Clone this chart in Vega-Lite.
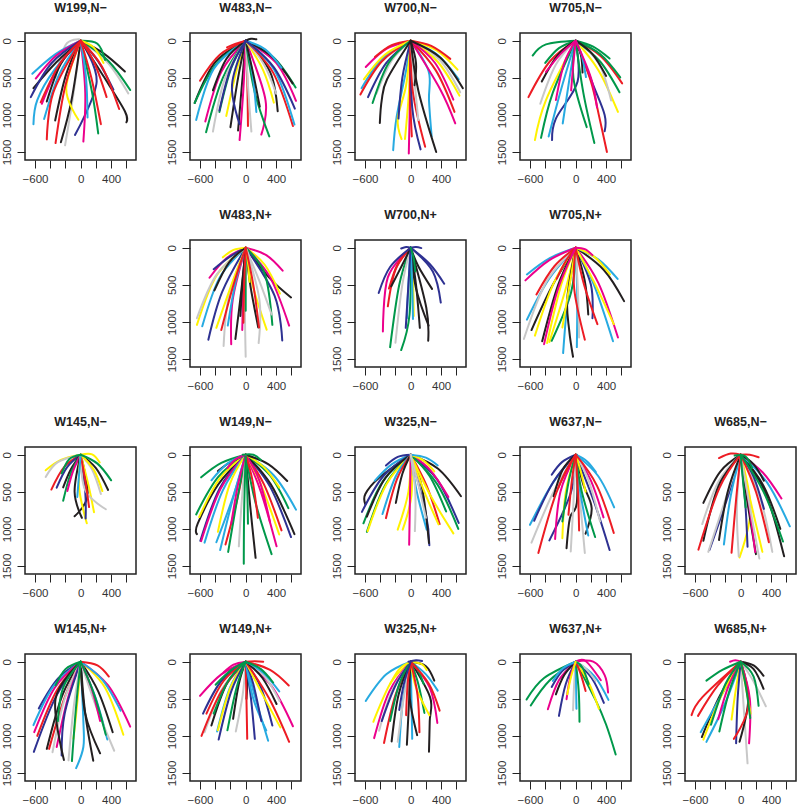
{"$schema":"https://vega.github.io/schema/vega-lite/v6.json","padding":0,"background":"white","data":{"values":[
{"p":1,"r":1,"c":"e","x":0,"y":0},{"p":1,"r":1,"c":"e","x":-100,"y":750},{"p":1,"r":1,"c":"e","x":-205,"y":1410},
{"p":1,"r":2,"c":"e","x":0,"y":0},{"p":1,"r":2,"c":"e","x":350,"y":290},{"p":1,"r":2,"c":"e","x":625,"y":710},
{"p":1,"r":3,"c":"e","x":-20,"y":-20},{"p":1,"r":3,"c":"e","x":-200,"y":60},{"p":1,"r":3,"c":"e","x":-330,"y":500},
{"p":1,"r":4,"c":"b","x":0,"y":0},{"p":1,"r":4,"c":"b","x":-330,"y":180},{"p":1,"r":4,"c":"b","x":-635,"y":445},
{"p":1,"r":5,"c":"b","x":0,"y":0},{"p":1,"r":5,"c":"b","x":-350,"y":400},{"p":1,"r":5,"c":"b","x":-570,"y":800},{"p":1,"r":5,"c":"b","x":-620,"y":1125},
{"p":1,"r":6,"c":"b","x":0,"y":0},{"p":1,"r":6,"c":"b","x":-280,"y":450},{"p":1,"r":6,"c":"b","x":-480,"y":1055},
{"p":1,"r":7,"c":"m","x":0,"y":0},{"p":1,"r":7,"c":"m","x":-320,"y":200},{"p":1,"r":7,"c":"m","x":-590,"y":510},
{"p":1,"r":8,"c":"k","x":0,"y":0},{"p":1,"r":8,"c":"k","x":-320,"y":290},{"p":1,"r":8,"c":"k","x":-620,"y":640},
{"p":1,"r":9,"c":"n","x":0,"y":0},{"p":1,"r":9,"c":"n","x":-380,"y":300},{"p":1,"r":9,"c":"n","x":-655,"y":760},
{"p":1,"r":10,"c":"m","x":0,"y":0},{"p":1,"r":10,"c":"m","x":-280,"y":330},{"p":1,"r":10,"c":"m","x":-510,"y":850},
{"p":1,"r":11,"c":"k","x":0,"y":0},{"p":1,"r":11,"c":"k","x":-260,"y":310},{"p":1,"r":11,"c":"k","x":-445,"y":820},
{"p":1,"r":12,"c":"k","x":0,"y":0},{"p":1,"r":12,"c":"k","x":-190,"y":450},{"p":1,"r":12,"c":"k","x":-335,"y":1075},
{"p":1,"r":13,"c":"k","x":0,"y":0},{"p":1,"r":13,"c":"k","x":-120,"y":800},{"p":1,"r":13,"c":"k","x":-260,"y":1370},
{"p":1,"r":14,"c":"y","x":0,"y":0},{"p":1,"r":14,"c":"y","x":-190,"y":640},{"p":1,"r":14,"c":"y","x":-30,"y":1065},
{"p":1,"r":15,"c":"n","x":0,"y":0},{"p":1,"r":15,"c":"n","x":210,"y":550},{"p":1,"r":15,"c":"n","x":-75,"y":1270},
{"p":1,"r":16,"c":"m","x":0,"y":0},{"p":1,"r":16,"c":"m","x":60,"y":700},{"p":1,"r":16,"c":"m","x":35,"y":1360},
{"p":1,"r":17,"c":"g","x":0,"y":0},{"p":1,"r":17,"c":"g","x":150,"y":700},{"p":1,"r":17,"c":"g","x":230,"y":1250},
{"p":1,"r":18,"c":"b","x":0,"y":0},{"p":1,"r":18,"c":"b","x":70,"y":500},{"p":1,"r":18,"c":"b","x":90,"y":1035},
{"p":1,"r":19,"c":"k","x":0,"y":0},{"p":1,"r":19,"c":"k","x":300,"y":170},{"p":1,"r":19,"c":"k","x":580,"y":415},
{"p":1,"r":20,"c":"g","x":0,"y":0},{"p":1,"r":20,"c":"g","x":360,"y":270},{"p":1,"r":20,"c":"g","x":650,"y":665},
{"p":1,"r":21,"c":"k","x":0,"y":0},{"p":1,"r":21,"c":"k","x":300,"y":480},{"p":1,"r":21,"c":"k","x":580,"y":950},{"p":1,"r":21,"c":"k","x":600,"y":1100},
{"p":1,"r":22,"c":"n","x":0,"y":0},{"p":1,"r":22,"c":"n","x":230,"y":280},{"p":1,"r":22,"c":"n","x":430,"y":660},
{"p":1,"r":23,"c":"g","x":0,"y":0},{"p":1,"r":23,"c":"g","x":220,"y":40},{"p":1,"r":23,"c":"g","x":320,"y":260},
{"p":1,"r":24,"c":"y","x":0,"y":0},{"p":1,"r":24,"c":"y","x":170,"y":90},{"p":1,"r":24,"c":"y","x":300,"y":300},
{"p":1,"r":25,"c":"r","x":0,"y":0},{"p":1,"r":25,"c":"r","x":-280,"y":320},{"p":1,"r":25,"c":"r","x":-525,"y":830},
{"p":1,"r":26,"c":"r","x":0,"y":0},{"p":1,"r":26,"c":"r","x":-360,"y":700},{"p":1,"r":26,"c":"r","x":-445,"y":1330},
{"p":1,"r":27,"c":"r","x":0,"y":0},{"p":1,"r":27,"c":"r","x":-200,"y":600},{"p":1,"r":27,"c":"r","x":-330,"y":1380},
{"p":1,"r":28,"c":"r","x":0,"y":0},{"p":1,"r":28,"c":"r","x":140,"y":500},{"p":1,"r":28,"c":"r","x":265,"y":1125},
{"p":1,"r":29,"c":"r","x":0,"y":0},{"p":1,"r":29,"c":"r","x":280,"y":350},{"p":1,"r":29,"c":"r","x":505,"y":920},
{"p":1,"r":30,"c":"r","x":0,"y":0},{"p":1,"r":30,"c":"r","x":180,"y":300},{"p":1,"r":30,"c":"r","x":340,"y":760},
{"p":2,"r":1,"c":"k","x":0,"y":0},{"p":2,"r":1,"c":"k","x":-400,"y":290},{"p":2,"r":1,"c":"k","x":-670,"y":840},
{"p":2,"r":2,"c":"g","x":0,"y":0},{"p":2,"r":2,"c":"g","x":-390,"y":320},{"p":2,"r":2,"c":"g","x":-670,"y":840},
{"p":2,"r":3,"c":"b","x":0,"y":0},{"p":2,"r":3,"c":"b","x":-420,"y":380},{"p":2,"r":3,"c":"b","x":-650,"y":1070},
{"p":2,"r":4,"c":"m","x":0,"y":0},{"p":2,"r":4,"c":"m","x":-320,"y":420},{"p":2,"r":4,"c":"m","x":-530,"y":1090},
{"p":2,"r":5,"c":"g","x":0,"y":0},{"p":2,"r":5,"c":"g","x":-300,"y":500},{"p":2,"r":5,"c":"g","x":-520,"y":1235},
{"p":2,"r":6,"c":"e","x":0,"y":0},{"p":2,"r":6,"c":"e","x":-270,"y":500},{"p":2,"r":6,"c":"e","x":-430,"y":1225},
{"p":2,"r":7,"c":"r","x":0,"y":0},{"p":2,"r":7,"c":"r","x":-340,"y":190},{"p":2,"r":7,"c":"r","x":-600,"y":540},
{"p":2,"r":8,"c":"k","x":0,"y":0},{"p":2,"r":8,"c":"k","x":-250,"y":240},{"p":2,"r":8,"c":"k","x":-430,"y":670},
{"p":2,"r":9,"c":"y","x":0,"y":0},{"p":2,"r":9,"c":"y","x":-120,"y":400},{"p":2,"r":9,"c":"y","x":-255,"y":1015},
{"p":2,"r":10,"c":"g","x":0,"y":0},{"p":2,"r":10,"c":"g","x":-190,"y":370},{"p":2,"r":10,"c":"g","x":-345,"y":960},
{"p":2,"r":11,"c":"k","x":0,"y":0},{"p":2,"r":11,"c":"k","x":-100,"y":500},{"p":2,"r":11,"c":"k","x":-200,"y":1165},
{"p":2,"r":12,"c":"k","x":0,"y":0},{"p":2,"r":12,"c":"k","x":-50,"y":600},{"p":2,"r":12,"c":"k","x":-100,"y":1210},
{"p":2,"r":13,"c":"m","x":0,"y":0},{"p":2,"r":13,"c":"m","x":-30,"y":650},{"p":2,"r":13,"c":"m","x":-80,"y":1340},
{"p":2,"r":14,"c":"r","x":0,"y":0},{"p":2,"r":14,"c":"r","x":20,"y":500},{"p":2,"r":14,"c":"r","x":30,"y":1150},
{"p":2,"r":15,"c":"e","x":0,"y":0},{"p":2,"r":15,"c":"e","x":30,"y":600},{"p":2,"r":15,"c":"e","x":75,"y":1225},
{"p":2,"r":16,"c":"m","x":0,"y":0},{"p":2,"r":16,"c":"m","x":260,"y":800},{"p":2,"r":16,"c":"m","x":205,"y":1265},
{"p":2,"r":17,"c":"g","x":0,"y":0},{"p":2,"r":17,"c":"g","x":120,"y":700},{"p":2,"r":17,"c":"g","x":310,"y":1290},
{"p":2,"r":18,"c":"b","x":0,"y":0},{"p":2,"r":18,"c":"b","x":90,"y":450},{"p":2,"r":18,"c":"b","x":140,"y":960},
{"p":2,"r":19,"c":"k","x":0,"y":0},{"p":2,"r":19,"c":"k","x":100,"y":450},{"p":2,"r":19,"c":"k","x":185,"y":890},
{"p":2,"r":20,"c":"k","x":0,"y":0},{"p":2,"r":20,"c":"k","x":320,"y":420},{"p":2,"r":20,"c":"k","x":420,"y":950},
{"p":2,"r":21,"c":"y","x":0,"y":0},{"p":2,"r":21,"c":"y","x":230,"y":400},{"p":2,"r":21,"c":"y","x":370,"y":835},
{"p":2,"r":22,"c":"e","x":0,"y":0},{"p":2,"r":22,"c":"e","x":240,"y":320},{"p":2,"r":22,"c":"e","x":400,"y":715},
{"p":2,"r":23,"c":"r","x":0,"y":0},{"p":2,"r":23,"c":"r","x":360,"y":430},{"p":2,"r":23,"c":"r","x":620,"y":1150},
{"p":2,"r":24,"c":"b","x":0,"y":0},{"p":2,"r":24,"c":"b","x":380,"y":400},{"p":2,"r":24,"c":"b","x":640,"y":1130},
{"p":2,"r":25,"c":"m","x":0,"y":0},{"p":2,"r":25,"c":"m","x":400,"y":300},{"p":2,"r":25,"c":"m","x":660,"y":810},
{"p":2,"r":26,"c":"g","x":0,"y":0},{"p":2,"r":26,"c":"g","x":370,"y":230},{"p":2,"r":26,"c":"g","x":655,"y":630},
{"p":2,"r":27,"c":"k","x":0,"y":0},{"p":2,"r":27,"c":"k","x":350,"y":220},{"p":2,"r":27,"c":"k","x":615,"y":575},
{"p":2,"r":28,"c":"b","x":0,"y":0},{"p":2,"r":28,"c":"b","x":260,"y":120},{"p":2,"r":28,"c":"b","x":470,"y":365},
{"p":2,"r":29,"c":"r","x":0,"y":0},{"p":2,"r":29,"c":"r","x":-130,"y":40},{"p":2,"r":29,"c":"r","x":-245,"y":90},
{"p":2,"r":30,"c":"k","x":0,"y":0},{"p":2,"r":30,"c":"k","x":70,"y":-25},{"p":2,"r":30,"c":"k","x":140,"y":-20},
{"p":2,"r":31,"c":"n","x":0,"y":0},{"p":2,"r":31,"c":"n","x":-200,"y":380},{"p":2,"r":31,"c":"n","x":-345,"y":940},
{"p":2,"r":32,"c":"n","x":0,"y":0},{"p":2,"r":32,"c":"n","x":-180,"y":600},{"p":2,"r":32,"c":"n","x":-80,"y":1125},
{"p":2,"r":33,"c":"n","x":0,"y":0},{"p":2,"r":33,"c":"n","x":370,"y":360},{"p":2,"r":33,"c":"n","x":645,"y":915},
{"p":3,"r":1,"c":"b","x":0,"y":0},{"p":3,"r":1,"c":"b","x":-370,"y":240},{"p":3,"r":1,"c":"b","x":-645,"y":640},
{"p":3,"r":2,"c":"r","x":0,"y":0},{"p":3,"r":2,"c":"r","x":-380,"y":280},{"p":3,"r":2,"c":"r","x":-660,"y":725},
{"p":3,"r":3,"c":"m","x":0,"y":0},{"p":3,"r":3,"c":"m","x":-320,"y":110},{"p":3,"r":3,"c":"m","x":-590,"y":355},
{"p":3,"r":4,"c":"r","x":0,"y":0},{"p":3,"r":4,"c":"r","x":-250,"y":60},{"p":3,"r":4,"c":"r","x":-470,"y":220},
{"p":3,"r":5,"c":"y","x":0,"y":0},{"p":3,"r":5,"c":"y","x":-340,"y":190},{"p":3,"r":5,"c":"y","x":-615,"y":520},
{"p":3,"r":6,"c":"n","x":0,"y":0},{"p":3,"r":6,"c":"n","x":-320,"y":300},{"p":3,"r":6,"c":"n","x":-560,"y":760},
{"p":3,"r":7,"c":"e","x":0,"y":0},{"p":3,"r":7,"c":"e","x":-250,"y":270},{"p":3,"r":7,"c":"e","x":-450,"y":715},
{"p":3,"r":8,"c":"g","x":0,"y":0},{"p":3,"r":8,"c":"g","x":-290,"y":300},{"p":3,"r":8,"c":"g","x":-500,"y":840},
{"p":3,"r":9,"c":"b","x":0,"y":0},{"p":3,"r":9,"c":"b","x":-60,"y":400},{"p":3,"r":9,"c":"b","x":-185,"y":1030},{"p":3,"r":9,"c":"b","x":-230,"y":1475},
{"p":3,"r":10,"c":"y","x":0,"y":0},{"p":3,"r":10,"c":"y","x":-60,"y":600},{"p":3,"r":10,"c":"y","x":-170,"y":1050},{"p":3,"r":10,"c":"y","x":-120,"y":1325},
{"p":3,"r":11,"c":"n","x":0,"y":0},{"p":3,"r":11,"c":"n","x":-110,"y":500},{"p":3,"r":11,"c":"n","x":-160,"y":1050},
{"p":3,"r":12,"c":"y","x":0,"y":0},{"p":3,"r":12,"c":"y","x":-20,"y":650},{"p":3,"r":12,"c":"y","x":-75,"y":1325},
{"p":3,"r":13,"c":"m","x":0,"y":0},{"p":3,"r":13,"c":"m","x":-10,"y":800},{"p":3,"r":13,"c":"m","x":-25,"y":1520},
{"p":3,"r":14,"c":"r","x":0,"y":0},{"p":3,"r":14,"c":"r","x":-10,"y":650},{"p":3,"r":14,"c":"r","x":15,"y":1290},
{"p":3,"r":15,"c":"n","x":0,"y":0},{"p":3,"r":15,"c":"n","x":20,"y":900},{"p":3,"r":15,"c":"n","x":130,"y":1465},
{"p":3,"r":16,"c":"r","x":0,"y":0},{"p":3,"r":16,"c":"r","x":30,"y":700},{"p":3,"r":16,"c":"r","x":190,"y":1430},
{"p":3,"r":17,"c":"b","x":0,"y":0},{"p":3,"r":17,"c":"b","x":235,"y":410},{"p":3,"r":17,"c":"b","x":240,"y":800},{"p":3,"r":17,"c":"b","x":275,"y":1290},
{"p":3,"r":18,"c":"e","x":0,"y":0},{"p":3,"r":18,"c":"e","x":50,"y":550},{"p":3,"r":18,"c":"e","x":100,"y":1070},
{"p":3,"r":19,"c":"m","x":0,"y":0},{"p":3,"r":19,"c":"m","x":385,"y":650},{"p":3,"r":19,"c":"m","x":585,"y":1115},
{"p":3,"r":20,"c":"r","x":0,"y":0},{"p":3,"r":20,"c":"r","x":330,"y":400},{"p":3,"r":20,"c":"r","x":575,"y":960},
{"p":3,"r":21,"c":"e","x":0,"y":0},{"p":3,"r":21,"c":"e","x":380,"y":260},{"p":3,"r":21,"c":"e","x":650,"y":695},
{"p":3,"r":22,"c":"y","x":0,"y":0},{"p":3,"r":22,"c":"y","x":360,"y":290},{"p":3,"r":22,"c":"y","x":640,"y":740},
{"p":3,"r":23,"c":"b","x":0,"y":0},{"p":3,"r":23,"c":"b","x":350,"y":190},{"p":3,"r":23,"c":"b","x":630,"y":520},
{"p":3,"r":24,"c":"y","x":0,"y":0},{"p":3,"r":24,"c":"y","x":340,"y":130},{"p":3,"r":24,"c":"y","x":615,"y":390},
{"p":3,"r":25,"c":"r","x":0,"y":0},{"p":3,"r":25,"c":"r","x":270,"y":70},{"p":3,"r":25,"c":"r","x":520,"y":245},
{"p":3,"r":26,"c":"m","x":0,"y":0},{"p":3,"r":26,"c":"m","x":320,"y":300},{"p":3,"r":26,"c":"m","x":560,"y":795},
{"p":3,"r":27,"c":"k","x":0,"y":0},{"p":3,"r":27,"c":"k","x":-310,"y":520},{"p":3,"r":27,"c":"k","x":-380,"y":800},{"p":3,"r":27,"c":"k","x":-405,"y":1110},
{"p":3,"r":28,"c":"k","x":0,"y":0},{"p":3,"r":28,"c":"k","x":100,"y":670},{"p":3,"r":28,"c":"k","x":335,"y":1500},
{"p":3,"r":29,"c":"k","x":0,"y":0},{"p":3,"r":29,"c":"k","x":390,"y":230},{"p":3,"r":29,"c":"k","x":685,"y":640},
{"p":3,"r":30,"c":"k","x":0,"y":0},{"p":3,"r":30,"c":"k","x":70,"y":300},{"p":3,"r":30,"c":"k","x":50,"y":600},
{"p":4,"r":1,"c":"g","x":0,"y":0},{"p":4,"r":1,"c":"g","x":-390,"y":50},{"p":4,"r":1,"c":"g","x":-565,"y":200},
{"p":4,"r":2,"c":"g","x":0,"y":0},{"p":4,"r":2,"c":"g","x":-220,"y":100},{"p":4,"r":2,"c":"g","x":-400,"y":300},
{"p":4,"r":3,"c":"r","x":0,"y":0},{"p":4,"r":3,"c":"r","x":-340,"y":280},{"p":4,"r":3,"c":"r","x":-620,"y":760},
{"p":4,"r":4,"c":"k","x":0,"y":0},{"p":4,"r":4,"c":"k","x":-240,"y":200},{"p":4,"r":4,"c":"k","x":-445,"y":550},
{"p":4,"r":5,"c":"e","x":0,"y":0},{"p":4,"r":5,"c":"e","x":-260,"y":320},{"p":4,"r":5,"c":"e","x":-465,"y":850},
{"p":4,"r":6,"c":"y","x":0,"y":0},{"p":4,"r":6,"c":"y","x":-390,"y":800},{"p":4,"r":6,"c":"y","x":-535,"y":1340},
{"p":4,"r":7,"c":"g","x":0,"y":0},{"p":4,"r":7,"c":"g","x":-300,"y":700},{"p":4,"r":7,"c":"g","x":-455,"y":1310},
{"p":4,"r":8,"c":"b","x":0,"y":0},{"p":4,"r":8,"c":"b","x":-190,"y":650},{"p":4,"r":8,"c":"b","x":-355,"y":1290},
{"p":4,"r":9,"c":"n","x":0,"y":0},{"p":4,"r":9,"c":"n","x":25,"y":550},{"p":4,"r":9,"c":"n","x":-260,"y":1050},{"p":4,"r":9,"c":"n","x":-310,"y":1340},
{"p":4,"r":10,"c":"b","x":0,"y":0},{"p":4,"r":10,"c":"b","x":-80,"y":500},{"p":4,"r":10,"c":"b","x":-170,"y":1115},
{"p":4,"r":11,"c":"g","x":0,"y":0},{"p":4,"r":11,"c":"g","x":-30,"y":500},{"p":4,"r":11,"c":"g","x":145,"y":1165},
{"p":4,"r":12,"c":"g","x":0,"y":0},{"p":4,"r":12,"c":"g","x":100,"y":700},{"p":4,"r":12,"c":"g","x":245,"y":1380},
{"p":4,"r":13,"c":"n","x":0,"y":0},{"p":4,"r":13,"c":"n","x":225,"y":585},{"p":4,"r":13,"c":"n","x":380,"y":1000},{"p":4,"r":13,"c":"n","x":380,"y":1220},
{"p":4,"r":14,"c":"r","x":0,"y":0},{"p":4,"r":14,"c":"r","x":200,"y":550},{"p":4,"r":14,"c":"r","x":310,"y":1030},{"p":4,"r":14,"c":"r","x":410,"y":1500},
{"p":4,"r":15,"c":"y","x":0,"y":0},{"p":4,"r":15,"c":"y","x":300,"y":400},{"p":4,"r":15,"c":"y","x":555,"y":960},
{"p":4,"r":16,"c":"e","x":0,"y":0},{"p":4,"r":16,"c":"e","x":300,"y":300},{"p":4,"r":16,"c":"e","x":465,"y":805},
{"p":4,"r":17,"c":"g","x":0,"y":0},{"p":4,"r":17,"c":"g","x":320,"y":280},{"p":4,"r":17,"c":"g","x":575,"y":695},
{"p":4,"r":18,"c":"r","x":0,"y":0},{"p":4,"r":18,"c":"r","x":330,"y":210},{"p":4,"r":18,"c":"r","x":610,"y":575},
{"p":4,"r":19,"c":"g","x":0,"y":0},{"p":4,"r":19,"c":"g","x":320,"y":180},{"p":4,"r":19,"c":"g","x":585,"y":495},
{"p":4,"r":20,"c":"g","x":0,"y":0},{"p":4,"r":20,"c":"g","x":230,"y":80},{"p":4,"r":20,"c":"g","x":445,"y":240},
{"p":4,"r":21,"c":"k","x":0,"y":0},{"p":4,"r":21,"c":"k","x":220,"y":180},{"p":4,"r":21,"c":"k","x":400,"y":475},
{"p":4,"r":22,"c":"k","x":0,"y":0},{"p":4,"r":22,"c":"k","x":70,"y":200},{"p":4,"r":22,"c":"k","x":90,"y":430},
{"p":4,"r":23,"c":"b","x":0,"y":0},{"p":4,"r":23,"c":"b","x":80,"y":200},{"p":4,"r":23,"c":"b","x":135,"y":490},
{"p":4,"r":24,"c":"m","x":0,"y":0},{"p":4,"r":24,"c":"m","x":-150,"y":300},{"p":4,"r":24,"c":"m","x":-260,"y":800},
{"p":4,"r":25,"c":"m","x":0,"y":0},{"p":4,"r":25,"c":"m","x":-200,"y":180},{"p":4,"r":25,"c":"m","x":-390,"y":420},
{"p":4,"r":26,"c":"m","x":0,"y":0},{"p":4,"r":26,"c":"m","x":-30,"y":300},{"p":4,"r":26,"c":"m","x":-60,"y":670},
{"p":4,"r":27,"c":"m","x":0,"y":0},{"p":4,"r":27,"c":"m","x":200,"y":500},{"p":4,"r":27,"c":"m","x":280,"y":900},
{"p":5,"r":1,"c":"m","x":0,"y":0},{"p":5,"r":1,"c":"m","x":270,"y":100},{"p":5,"r":1,"c":"m","x":485,"y":310},
{"p":5,"r":2,"c":"k","x":0,"y":0},{"p":5,"r":2,"c":"k","x":315,"y":410},{"p":5,"r":2,"c":"k","x":595,"y":670},
{"p":5,"r":3,"c":"y","x":0,"y":0},{"p":5,"r":3,"c":"y","x":250,"y":230},{"p":5,"r":3,"c":"y","x":450,"y":620},
{"p":5,"r":4,"c":"m","x":0,"y":0},{"p":5,"r":4,"c":"m","x":320,"y":400},{"p":5,"r":4,"c":"m","x":570,"y":1050},
{"p":5,"r":5,"c":"n","x":0,"y":0},{"p":5,"r":5,"c":"n","x":380,"y":650},{"p":5,"r":5,"c":"n","x":480,"y":1250},
{"p":5,"r":6,"c":"y","x":0,"y":0},{"p":5,"r":6,"c":"y","x":90,"y":500},{"p":5,"r":6,"c":"y","x":275,"y":1105},
{"p":5,"r":7,"c":"g","x":0,"y":0},{"p":5,"r":7,"c":"g","x":250,"y":350},{"p":5,"r":7,"c":"g","x":350,"y":1040},
{"p":5,"r":8,"c":"e","x":0,"y":0},{"p":5,"r":8,"c":"e","x":180,"y":450},{"p":5,"r":8,"c":"e","x":340,"y":900},
{"p":5,"r":9,"c":"k","x":0,"y":0},{"p":5,"r":9,"c":"k","x":60,"y":500},{"p":5,"r":9,"c":"k","x":165,"y":1075},
{"p":5,"r":10,"c":"k","x":0,"y":0},{"p":5,"r":10,"c":"k","x":-60,"y":600},{"p":5,"r":10,"c":"k","x":-135,"y":1230},
{"p":5,"r":11,"c":"e","x":0,"y":0},{"p":5,"r":11,"c":"e","x":180,"y":700},{"p":5,"r":11,"c":"e","x":170,"y":1285},
{"p":5,"r":12,"c":"e","x":0,"y":0},{"p":5,"r":12,"c":"e","x":-10,"y":800},{"p":5,"r":12,"c":"e","x":0,"y":1470},
{"p":5,"r":13,"c":"m","x":0,"y":0},{"p":5,"r":13,"c":"m","x":-30,"y":550},{"p":5,"r":13,"c":"m","x":-45,"y":1110},
{"p":5,"r":14,"c":"g","x":0,"y":0},{"p":5,"r":14,"c":"g","x":0,"y":450},{"p":5,"r":14,"c":"g","x":0,"y":850},
{"p":5,"r":15,"c":"m","x":0,"y":0},{"p":5,"r":15,"c":"m","x":-170,"y":700},{"p":5,"r":15,"c":"m","x":-190,"y":1300},
{"p":5,"r":16,"c":"e","x":0,"y":0},{"p":5,"r":16,"c":"e","x":-220,"y":650},{"p":5,"r":16,"c":"e","x":-290,"y":1325},
{"p":5,"r":17,"c":"n","x":0,"y":0},{"p":5,"r":17,"c":"n","x":-310,"y":600},{"p":5,"r":17,"c":"n","x":-490,"y":1240},
{"p":5,"r":18,"c":"y","x":0,"y":0},{"p":5,"r":18,"c":"y","x":-180,"y":480},{"p":5,"r":18,"c":"y","x":-385,"y":1080},
{"p":5,"r":19,"c":"b","x":0,"y":0},{"p":5,"r":19,"c":"b","x":-340,"y":400},{"p":5,"r":19,"c":"b","x":-570,"y":1060},
{"p":5,"r":20,"c":"y","x":0,"y":0},{"p":5,"r":20,"c":"y","x":-380,"y":370},{"p":5,"r":20,"c":"y","x":-640,"y":1040},
{"p":5,"r":21,"c":"e","x":0,"y":0},{"p":5,"r":21,"c":"e","x":-380,"y":360},{"p":5,"r":21,"c":"e","x":-640,"y":950},
{"p":5,"r":22,"c":"m","x":0,"y":0},{"p":5,"r":22,"c":"m","x":-250,"y":140},{"p":5,"r":22,"c":"m","x":-475,"y":405},
{"p":5,"r":23,"c":"n","x":0,"y":0},{"p":5,"r":23,"c":"n","x":-220,"y":130},{"p":5,"r":23,"c":"n","x":-420,"y":290},
{"p":5,"r":24,"c":"y","x":0,"y":0},{"p":5,"r":24,"c":"y","x":-160,"y":30},{"p":5,"r":24,"c":"y","x":-300,"y":130},
{"p":5,"r":25,"c":"k","x":0,"y":0},{"p":5,"r":25,"c":"k","x":-220,"y":200},{"p":5,"r":25,"c":"k","x":-410,"y":575},
{"p":5,"r":26,"c":"b","x":0,"y":0},{"p":5,"r":26,"c":"b","x":-130,"y":450},{"p":5,"r":26,"c":"b","x":-235,"y":1050},
{"p":5,"r":27,"c":"k","x":0,"y":0},{"p":5,"r":27,"c":"k","x":-40,"y":450},{"p":5,"r":27,"c":"k","x":-70,"y":920},
{"p":5,"r":28,"c":"y","x":0,"y":0},{"p":5,"r":28,"c":"y","x":30,"y":200},{"p":5,"r":28,"c":"y","x":50,"y":460},
{"p":5,"r":29,"c":"r","x":0,"y":0},{"p":5,"r":29,"c":"r","x":-160,"y":500},{"p":5,"r":29,"c":"r","x":-320,"y":1110},
{"p":5,"r":30,"c":"r","x":0,"y":0},{"p":5,"r":30,"c":"r","x":-20,"y":500},{"p":5,"r":30,"c":"r","x":-30,"y":1010},
{"p":5,"r":31,"c":"r","x":0,"y":0},{"p":5,"r":31,"c":"r","x":100,"y":500},{"p":5,"r":31,"c":"r","x":175,"y":1075},
{"p":6,"r":1,"c":"m","x":0,"y":0},{"p":6,"r":1,"c":"m","x":-300,"y":400},{"p":6,"r":1,"c":"m","x":-365,"y":1130},
{"p":6,"r":2,"c":"r","x":0,"y":0},{"p":6,"r":2,"c":"r","x":-200,"y":300},{"p":6,"r":2,"c":"r","x":-300,"y":790},
{"p":6,"r":3,"c":"r","x":0,"y":0},{"p":6,"r":3,"c":"r","x":-170,"y":220},{"p":6,"r":3,"c":"r","x":-285,"y":550},
{"p":6,"r":4,"c":"g","x":0,"y":0},{"p":6,"r":4,"c":"g","x":-150,"y":500},{"p":6,"r":4,"c":"g","x":-270,"y":1340},
{"p":6,"r":5,"c":"e","x":0,"y":0},{"p":6,"r":5,"c":"e","x":-110,"y":500},{"p":6,"r":5,"c":"e","x":-200,"y":1280},
{"p":6,"r":6,"c":"g","x":0,"y":0},{"p":6,"r":6,"c":"g","x":-15,"y":900},{"p":6,"r":6,"c":"g","x":-125,"y":1380},
{"p":6,"r":7,"c":"b","x":0,"y":0},{"p":6,"r":7,"c":"b","x":-30,"y":500},{"p":6,"r":7,"c":"b","x":-50,"y":950},
{"p":6,"r":8,"c":"y","x":0,"y":0},{"p":6,"r":8,"c":"y","x":30,"y":450},{"p":6,"r":8,"c":"y","x":40,"y":920},
{"p":6,"r":9,"c":"k","x":0,"y":0},{"p":6,"r":9,"c":"k","x":70,"y":500},{"p":6,"r":9,"c":"k","x":120,"y":1080},
{"p":6,"r":10,"c":"k","x":0,"y":0},{"p":6,"r":10,"c":"k","x":70,"y":550},{"p":6,"r":10,"c":"k","x":235,"y":1050},
{"p":6,"r":11,"c":"k","x":0,"y":0},{"p":6,"r":11,"c":"k","x":205,"y":810},{"p":6,"r":11,"c":"k","x":230,"y":1255},
{"p":6,"r":12,"c":"k","x":0,"y":0},{"p":6,"r":12,"c":"k","x":100,"y":250},{"p":6,"r":12,"c":"k","x":280,"y":555},
{"p":6,"r":13,"c":"b","x":0,"y":0},{"p":6,"r":13,"c":"b","x":20,"y":500},{"p":6,"r":13,"c":"b","x":30,"y":960},
{"p":6,"r":14,"c":"k","x":0,"y":0},{"p":6,"r":14,"c":"k","x":-120,"y":250},{"p":6,"r":14,"c":"k","x":-255,"y":520},
{"p":6,"r":15,"c":"n","x":0,"y":0},{"p":6,"r":15,"c":"n","x":-270,"y":260},{"p":6,"r":15,"c":"n","x":-420,"y":610},
{"p":6,"r":16,"c":"n","x":0,"y":0},{"p":6,"r":16,"c":"n","x":250,"y":220},{"p":6,"r":16,"c":"n","x":440,"y":485},
{"p":6,"r":17,"c":"n","x":0,"y":0},{"p":6,"r":17,"c":"n","x":290,"y":320},{"p":6,"r":17,"c":"n","x":395,"y":740},
{"p":6,"r":18,"c":"n","x":0,"y":0},{"p":6,"r":18,"c":"n","x":-30,"y":500},{"p":6,"r":18,"c":"n","x":-65,"y":1080},
{"p":6,"r":19,"c":"n","x":0,"y":0},{"p":6,"r":19,"c":"n","x":70,"y":-10},{"p":6,"r":19,"c":"n","x":140,"y":5},
{"p":6,"r":20,"c":"n","x":0,"y":0},{"p":6,"r":20,"c":"n","x":-60,"y":-10},{"p":6,"r":20,"c":"n","x":-125,"y":10},
{"p":6,"r":21,"c":"g","x":0,"y":0},{"p":6,"r":21,"c":"g","x":40,"y":150},{"p":6,"r":21,"c":"g","x":60,"y":320},
{"p":7,"r":1,"c":"b","x":0,"y":0},{"p":7,"r":1,"c":"b","x":-340,"y":140},{"p":7,"r":1,"c":"b","x":-640,"y":360},
{"p":7,"r":2,"c":"m","x":0,"y":0},{"p":7,"r":2,"c":"m","x":-350,"y":170},{"p":7,"r":2,"c":"m","x":-660,"y":440},
{"p":7,"r":3,"c":"b","x":0,"y":0},{"p":7,"r":3,"c":"b","x":-350,"y":420},{"p":7,"r":3,"c":"b","x":-640,"y":970},
{"p":7,"r":4,"c":"e","x":0,"y":0},{"p":7,"r":4,"c":"e","x":-380,"y":450},{"p":7,"r":4,"c":"e","x":-680,"y":1230},
{"p":7,"r":5,"c":"k","x":0,"y":0},{"p":7,"r":5,"c":"k","x":-300,"y":500},{"p":7,"r":5,"c":"k","x":-580,"y":1110},
{"p":7,"r":6,"c":"y","x":0,"y":0},{"p":7,"r":6,"c":"y","x":-290,"y":480},{"p":7,"r":6,"c":"y","x":-535,"y":1185},
{"p":7,"r":7,"c":"k","x":0,"y":0},{"p":7,"r":7,"c":"k","x":-230,"y":500},{"p":7,"r":7,"c":"k","x":-440,"y":1260},
{"p":7,"r":8,"c":"y","x":0,"y":0},{"p":7,"r":8,"c":"y","x":-190,"y":500},{"p":7,"r":8,"c":"y","x":-375,"y":1285},
{"p":7,"r":9,"c":"y","x":0,"y":0},{"p":7,"r":9,"c":"y","x":-130,"y":550},{"p":7,"r":9,"c":"y","x":-345,"y":1270},
{"p":7,"r":10,"c":"g","x":0,"y":0},{"p":7,"r":10,"c":"g","x":-60,"y":600},{"p":7,"r":10,"c":"g","x":-315,"y":1255},
{"p":7,"r":11,"c":"b","x":0,"y":0},{"p":7,"r":11,"c":"b","x":-100,"y":650},{"p":7,"r":11,"c":"b","x":-165,"y":1420},
{"p":7,"r":12,"c":"k","x":0,"y":0},{"p":7,"r":12,"c":"k","x":-110,"y":680},{"p":7,"r":12,"c":"k","x":-85,"y":1115},{"p":7,"r":12,"c":"k","x":-35,"y":1470},
{"p":7,"r":13,"c":"b","x":0,"y":0},{"p":7,"r":13,"c":"b","x":20,"y":650},{"p":7,"r":13,"c":"b","x":15,"y":1340},
{"p":7,"r":14,"c":"e","x":0,"y":0},{"p":7,"r":14,"c":"e","x":30,"y":600},{"p":7,"r":14,"c":"e","x":45,"y":1210},
{"p":7,"r":15,"c":"n","x":0,"y":0},{"p":7,"r":15,"c":"n","x":200,"y":500},{"p":7,"r":15,"c":"n","x":220,"y":950},
{"p":7,"r":16,"c":"k","x":0,"y":0},{"p":7,"r":16,"c":"k","x":120,"y":450},{"p":7,"r":16,"c":"k","x":165,"y":900},
{"p":7,"r":17,"c":"m","x":0,"y":0},{"p":7,"r":17,"c":"m","x":300,"y":480},{"p":7,"r":17,"c":"m","x":555,"y":1210},
{"p":7,"r":18,"c":"b","x":0,"y":0},{"p":7,"r":18,"c":"b","x":240,"y":500},{"p":7,"r":18,"c":"b","x":490,"y":1260},
{"p":7,"r":19,"c":"y","x":0,"y":0},{"p":7,"r":19,"c":"y","x":250,"y":480},{"p":7,"r":19,"c":"y","x":500,"y":1030},
{"p":7,"r":20,"c":"k","x":0,"y":0},{"p":7,"r":20,"c":"k","x":370,"y":300},{"p":7,"r":20,"c":"k","x":635,"y":720},
{"p":7,"r":21,"c":"b","x":0,"y":0},{"p":7,"r":21,"c":"b","x":300,"y":160},{"p":7,"r":21,"c":"b","x":550,"y":420},
{"p":7,"r":22,"c":"y","x":0,"y":0},{"p":7,"r":22,"c":"y","x":240,"y":120},{"p":7,"r":22,"c":"y","x":450,"y":360},
{"p":7,"r":23,"c":"y","x":0,"y":0},{"p":7,"r":23,"c":"y","x":-80,"y":500},{"p":7,"r":23,"c":"y","x":-175,"y":1075},
{"p":7,"r":24,"c":"r","x":0,"y":0},{"p":7,"r":24,"c":"r","x":-280,"y":250},{"p":7,"r":24,"c":"r","x":-515,"y":630},
{"p":7,"r":25,"c":"r","x":0,"y":0},{"p":7,"r":25,"c":"r","x":-20,"y":550},{"p":7,"r":25,"c":"r","x":120,"y":1240},
{"p":7,"r":26,"c":"r","x":0,"y":0},{"p":7,"r":26,"c":"r","x":110,"y":500},{"p":7,"r":26,"c":"r","x":285,"y":1030},
{"p":7,"r":27,"c":"r","x":0,"y":0},{"p":7,"r":27,"c":"r","x":-130,"y":180},{"p":7,"r":27,"c":"r","x":-250,"y":420},
{"p":7,"r":28,"c":"m","x":0,"y":0},{"p":7,"r":28,"c":"m","x":120,"y":20},{"p":7,"r":28,"c":"m","x":220,"y":100},
{"p":7,"r":29,"c":"m","x":0,"y":0},{"p":7,"r":29,"c":"m","x":-230,"y":550},{"p":7,"r":29,"c":"m","x":-415,"y":1300},
{"p":8,"r":1,"c":"y","x":0,"y":0},{"p":8,"r":1,"c":"y","x":-260,"y":70},{"p":8,"r":1,"c":"y","x":-460,"y":210},
{"p":8,"r":2,"c":"e","x":0,"y":0},{"p":8,"r":2,"c":"e","x":-300,"y":100},{"p":8,"r":2,"c":"e","x":-460,"y":300},
{"p":8,"r":3,"c":"r","x":0,"y":0},{"p":8,"r":3,"c":"r","x":-220,"y":170},{"p":8,"r":3,"c":"r","x":-385,"y":470},
{"p":8,"r":4,"c":"n","x":0,"y":0},{"p":8,"r":4,"c":"n","x":-180,"y":170},{"p":8,"r":4,"c":"n","x":-315,"y":445},
{"p":8,"r":5,"c":"k","x":0,"y":0},{"p":8,"r":5,"c":"k","x":-130,"y":200},{"p":8,"r":5,"c":"k","x":-230,"y":440},
{"p":8,"r":6,"c":"g","x":0,"y":0},{"p":8,"r":6,"c":"g","x":-130,"y":250},{"p":8,"r":6,"c":"g","x":-230,"y":620},
{"p":8,"r":7,"c":"m","x":0,"y":0},{"p":8,"r":7,"c":"m","x":-100,"y":220},{"p":8,"r":7,"c":"m","x":-175,"y":490},
{"p":8,"r":8,"c":"k","x":0,"y":0},{"p":8,"r":8,"c":"k","x":90,"y":550},{"p":8,"r":8,"c":"k","x":-80,"y":830},
{"p":8,"r":9,"c":"k","x":0,"y":0},{"p":8,"r":9,"c":"k","x":-80,"y":500},{"p":8,"r":9,"c":"k","x":15,"y":850},
{"p":8,"r":10,"c":"y","x":0,"y":0},{"p":8,"r":10,"c":"y","x":-20,"y":450},{"p":8,"r":10,"c":"y","x":80,"y":925},
{"p":8,"r":11,"c":"n","x":0,"y":0},{"p":8,"r":11,"c":"n","x":60,"y":500},{"p":8,"r":11,"c":"n","x":65,"y":860},
{"p":8,"r":12,"c":"y","x":0,"y":0},{"p":8,"r":12,"c":"y","x":100,"y":400},{"p":8,"r":12,"c":"y","x":175,"y":775},
{"p":8,"r":13,"c":"e","x":0,"y":0},{"p":8,"r":13,"c":"e","x":60,"y":480},{"p":8,"r":13,"c":"e","x":330,"y":735},
{"p":8,"r":14,"c":"r","x":0,"y":0},{"p":8,"r":14,"c":"r","x":60,"y":350},{"p":8,"r":14,"c":"r","x":110,"y":705},
{"p":8,"r":15,"c":"e","x":0,"y":0},{"p":8,"r":15,"c":"e","x":150,"y":200},{"p":8,"r":15,"c":"e","x":265,"y":530},
{"p":8,"r":16,"c":"k","x":0,"y":0},{"p":8,"r":16,"c":"k","x":200,"y":180},{"p":8,"r":16,"c":"k","x":360,"y":475},
{"p":8,"r":17,"c":"y","x":0,"y":0},{"p":8,"r":17,"c":"y","x":170,"y":200},{"p":8,"r":17,"c":"y","x":285,"y":490},
{"p":8,"r":18,"c":"y","x":0,"y":0},{"p":8,"r":18,"c":"y","x":150,"y":-5},{"p":8,"r":18,"c":"y","x":250,"y":105},
{"p":8,"r":19,"c":"b","x":0,"y":0},{"p":8,"r":19,"c":"b","x":-20,"y":250},{"p":8,"r":19,"c":"b","x":-45,"y":570},
{"p":8,"r":20,"c":"g","x":0,"y":0},{"p":8,"r":20,"c":"g","x":220,"y":120},{"p":8,"r":20,"c":"g","x":400,"y":345},
{"p":8,"r":21,"c":"g","x":0,"y":0},{"p":8,"r":21,"c":"g","x":-150,"y":60},{"p":8,"r":21,"c":"g","x":-250,"y":250},
{"p":9,"r":1,"c":"g","x":0,"y":0},{"p":9,"r":1,"c":"g","x":-320,"y":110},{"p":9,"r":1,"c":"g","x":-585,"y":305},
{"p":9,"r":2,"c":"g","x":0,"y":0},{"p":9,"r":2,"c":"g","x":-360,"y":300},{"p":9,"r":2,"c":"g","x":-650,"y":805},
{"p":9,"r":3,"c":"k","x":0,"y":0},{"p":9,"r":3,"c":"k","x":-360,"y":400},{"p":9,"r":3,"c":"k","x":-630,"y":930},{"p":9,"r":3,"c":"k","x":-640,"y":1070},
{"p":9,"r":4,"c":"y","x":0,"y":0},{"p":9,"r":4,"c":"y","x":-340,"y":320},{"p":9,"r":4,"c":"y","x":-610,"y":840},
{"p":9,"r":5,"c":"n","x":0,"y":0},{"p":9,"r":5,"c":"n","x":-340,"y":450},{"p":9,"r":5,"c":"n","x":-595,"y":1160},
{"p":9,"r":6,"c":"m","x":0,"y":0},{"p":9,"r":6,"c":"m","x":-330,"y":460},{"p":9,"r":6,"c":"m","x":-585,"y":1165},
{"p":9,"r":7,"c":"b","x":0,"y":0},{"p":9,"r":7,"c":"b","x":-300,"y":480},{"p":9,"r":7,"c":"b","x":-540,"y":1185},
{"p":9,"r":8,"c":"y","x":0,"y":0},{"p":9,"r":8,"c":"y","x":-210,"y":400},{"p":9,"r":8,"c":"y","x":-365,"y":1040},
{"p":9,"r":9,"c":"b","x":0,"y":0},{"p":9,"r":9,"c":"b","x":-160,"y":550},{"p":9,"r":9,"c":"b","x":-385,"y":1180},
{"p":9,"r":10,"c":"b","x":0,"y":0},{"p":9,"r":10,"c":"b","x":-170,"y":600},{"p":9,"r":10,"c":"b","x":-335,"y":1285},
{"p":9,"r":11,"c":"r","x":0,"y":0},{"p":9,"r":11,"c":"r","x":-110,"y":600},{"p":9,"r":11,"c":"r","x":-265,"y":1210},
{"p":9,"r":12,"c":"g","x":0,"y":0},{"p":9,"r":12,"c":"g","x":-120,"y":650},{"p":9,"r":12,"c":"g","x":-230,"y":1310},
{"p":9,"r":13,"c":"e","x":0,"y":0},{"p":9,"r":13,"c":"e","x":-50,"y":600},{"p":9,"r":13,"c":"e","x":-90,"y":1235},
{"p":9,"r":14,"c":"m","x":0,"y":0},{"p":9,"r":14,"c":"m","x":-100,"y":400},{"p":9,"r":14,"c":"m","x":-190,"y":930},
{"p":9,"r":15,"c":"g","x":0,"y":0},{"p":9,"r":15,"c":"g","x":-20,"y":750},{"p":9,"r":15,"c":"g","x":-25,"y":1470},
{"p":9,"r":16,"c":"k","x":0,"y":0},{"p":9,"r":16,"c":"k","x":60,"y":700},{"p":9,"r":16,"c":"k","x":130,"y":1390},
{"p":9,"r":17,"c":"m","x":0,"y":0},{"p":9,"r":17,"c":"m","x":200,"y":500},{"p":9,"r":17,"c":"m","x":405,"y":1235},
{"p":9,"r":18,"c":"g","x":0,"y":0},{"p":9,"r":18,"c":"g","x":130,"y":650},{"p":9,"r":18,"c":"g","x":340,"y":1340},
{"p":9,"r":19,"c":"r","x":0,"y":0},{"p":9,"r":19,"c":"r","x":240,"y":400},{"p":9,"r":19,"c":"r","x":470,"y":1020},
{"p":9,"r":20,"c":"y","x":0,"y":0},{"p":9,"r":20,"c":"y","x":200,"y":400},{"p":9,"r":20,"c":"y","x":440,"y":1075},
{"p":9,"r":21,"c":"n","x":0,"y":0},{"p":9,"r":21,"c":"n","x":320,"y":430},{"p":9,"r":21,"c":"n","x":595,"y":1110},
{"p":9,"r":22,"c":"k","x":0,"y":0},{"p":9,"r":22,"c":"k","x":330,"y":400},{"p":9,"r":22,"c":"k","x":640,"y":1070},
{"p":9,"r":23,"c":"b","x":0,"y":0},{"p":9,"r":23,"c":"b","x":370,"y":280},{"p":9,"r":23,"c":"b","x":660,"y":740},
{"p":9,"r":24,"c":"g","x":0,"y":0},{"p":9,"r":24,"c":"g","x":320,"y":280},{"p":9,"r":24,"c":"g","x":560,"y":720},
{"p":9,"r":25,"c":"m","x":0,"y":0},{"p":9,"r":25,"c":"m","x":180,"y":350},{"p":9,"r":25,"c":"m","x":320,"y":910},
{"p":9,"r":26,"c":"y","x":0,"y":0},{"p":9,"r":26,"c":"y","x":240,"y":170},{"p":9,"r":26,"c":"y","x":440,"y":440},
{"p":9,"r":27,"c":"k","x":0,"y":0},{"p":9,"r":27,"c":"k","x":300,"y":130},{"p":9,"r":27,"c":"k","x":545,"y":355},
{"p":9,"r":28,"c":"k","x":0,"y":0},{"p":9,"r":28,"c":"k","x":-200,"y":100},{"p":9,"r":28,"c":"k","x":-365,"y":220},
{"p":9,"r":29,"c":"b","x":0,"y":0},{"p":9,"r":29,"c":"b","x":-240,"y":120},{"p":9,"r":29,"c":"b","x":-450,"y":345},
{"p":9,"r":30,"c":"r","x":0,"y":0},{"p":9,"r":30,"c":"r","x":90,"y":350},{"p":9,"r":30,"c":"r","x":160,"y":850},
{"p":9,"r":31,"c":"g","x":0,"y":0},{"p":9,"r":31,"c":"g","x":20,"y":450},{"p":9,"r":31,"c":"g","x":30,"y":930},
{"p":9,"r":32,"c":"m","x":0,"y":0},{"p":9,"r":32,"c":"m","x":-130,"y":60},{"p":9,"r":32,"c":"m","x":-240,"y":180},
{"p":9,"r":33,"c":"g","x":-40,"y":0},{"p":9,"r":33,"c":"g","x":100,"y":0},{"p":9,"r":33,"c":"g","x":200,"y":70},
{"p":10,"r":1,"c":"k","x":0,"y":0},{"p":10,"r":1,"c":"k","x":-415,"y":310},{"p":10,"r":1,"c":"k","x":-595,"y":530},{"p":10,"r":1,"c":"k","x":-595,"y":670},
{"p":10,"r":2,"c":"b","x":0,"y":0},{"p":10,"r":2,"c":"b","x":-250,"y":130},{"p":10,"r":2,"c":"b","x":-470,"y":350},
{"p":10,"r":3,"c":"n","x":0,"y":0},{"p":10,"r":3,"c":"n","x":-360,"y":290},{"p":10,"r":3,"c":"n","x":-640,"y":770},
{"p":10,"r":4,"c":"g","x":0,"y":0},{"p":10,"r":4,"c":"g","x":-360,"y":350},{"p":10,"r":4,"c":"g","x":-620,"y":925},
{"p":10,"r":5,"c":"g","x":0,"y":0},{"p":10,"r":5,"c":"g","x":-330,"y":400},{"p":10,"r":5,"c":"g","x":-575,"y":1040},
{"p":10,"r":6,"c":"y","x":0,"y":0},{"p":10,"r":6,"c":"y","x":-320,"y":400},{"p":10,"r":6,"c":"y","x":-565,"y":1030},
{"p":10,"r":7,"c":"k","x":0,"y":0},{"p":10,"r":7,"c":"k","x":-330,"y":310},{"p":10,"r":7,"c":"k","x":-575,"y":835},
{"p":10,"r":8,"c":"b","x":0,"y":0},{"p":10,"r":8,"c":"b","x":-200,"y":300},{"p":10,"r":8,"c":"b","x":-370,"y":800},
{"p":10,"r":9,"c":"r","x":0,"y":0},{"p":10,"r":9,"c":"r","x":-180,"y":330},{"p":10,"r":9,"c":"r","x":-325,"y":855},
{"p":10,"r":10,"c":"k","x":0,"y":0},{"p":10,"r":10,"c":"k","x":-110,"y":260},{"p":10,"r":10,"c":"k","x":-195,"y":650},
{"p":10,"r":11,"c":"y","x":0,"y":0},{"p":10,"r":11,"c":"y","x":-30,"y":500},{"p":10,"r":11,"c":"y","x":-170,"y":1010},
{"p":10,"r":12,"c":"y","x":0,"y":0},{"p":10,"r":12,"c":"y","x":10,"y":550},{"p":10,"r":12,"c":"y","x":-105,"y":1010},
{"p":10,"r":13,"c":"m","x":0,"y":0},{"p":10,"r":13,"c":"m","x":-10,"y":600},{"p":10,"r":13,"c":"m","x":-20,"y":1215},
{"p":10,"r":14,"c":"b","x":0,"y":0},{"p":10,"r":14,"c":"b","x":80,"y":500},{"p":10,"r":14,"c":"b","x":210,"y":1010},
{"p":10,"r":15,"c":"n","x":0,"y":0},{"p":10,"r":15,"c":"n","x":200,"y":800},{"p":10,"r":15,"c":"n","x":245,"y":1220},
{"p":10,"r":16,"c":"k","x":0,"y":0},{"p":10,"r":16,"c":"k","x":150,"y":450},{"p":10,"r":16,"c":"k","x":240,"y":1190},
{"p":10,"r":17,"c":"r","x":0,"y":0},{"p":10,"r":17,"c":"r","x":210,"y":420},{"p":10,"r":17,"c":"r","x":380,"y":935},
{"p":10,"r":18,"c":"y","x":0,"y":0},{"p":10,"r":18,"c":"y","x":180,"y":500},{"p":10,"r":18,"c":"y","x":365,"y":940},
{"p":10,"r":19,"c":"y","x":0,"y":0},{"p":10,"r":19,"c":"y","x":260,"y":550},{"p":10,"r":19,"c":"y","x":560,"y":1060},
{"p":10,"r":20,"c":"g","x":0,"y":0},{"p":10,"r":20,"c":"g","x":350,"y":400},{"p":10,"r":20,"c":"g","x":625,"y":1000},
{"p":10,"r":21,"c":"n","x":0,"y":0},{"p":10,"r":21,"c":"n","x":350,"y":340},{"p":10,"r":21,"c":"n","x":630,"y":920},
{"p":10,"r":22,"c":"k","x":0,"y":0},{"p":10,"r":22,"c":"k","x":360,"y":190},{"p":10,"r":22,"c":"k","x":660,"y":560},
{"p":10,"r":23,"c":"m","x":0,"y":0},{"p":10,"r":23,"c":"m","x":260,"y":210},{"p":10,"r":23,"c":"m","x":495,"y":570},
{"p":10,"r":24,"c":"g","x":0,"y":0},{"p":10,"r":24,"c":"g","x":250,"y":290},{"p":10,"r":24,"c":"g","x":465,"y":765},
{"p":10,"r":25,"c":"y","x":0,"y":0},{"p":10,"r":25,"c":"y","x":170,"y":80},{"p":10,"r":25,"c":"y","x":310,"y":225},
{"p":10,"r":26,"c":"b","x":0,"y":0},{"p":10,"r":26,"c":"b","x":200,"y":40},{"p":10,"r":26,"c":"b","x":355,"y":145},
{"p":10,"r":27,"c":"n","x":0,"y":0},{"p":10,"r":27,"c":"n","x":-170,"y":30},{"p":10,"r":27,"c":"n","x":-325,"y":145},
{"p":10,"r":28,"c":"e","x":0,"y":0},{"p":10,"r":28,"c":"e","x":60,"y":500},{"p":10,"r":28,"c":"e","x":55,"y":1030},
{"p":10,"r":29,"c":"e","x":0,"y":0},{"p":10,"r":29,"c":"e","x":100,"y":400},{"p":10,"r":29,"c":"e","x":200,"y":850},
{"p":11,"r":1,"c":"b","x":0,"y":0},{"p":11,"r":1,"c":"b","x":-300,"y":380},{"p":11,"r":1,"c":"b","x":-600,"y":945},
{"p":11,"r":2,"c":"n","x":0,"y":0},{"p":11,"r":2,"c":"n","x":-290,"y":360},{"p":11,"r":2,"c":"n","x":-545,"y":890},
{"p":11,"r":3,"c":"e","x":0,"y":0},{"p":11,"r":3,"c":"e","x":-290,"y":500},{"p":11,"r":3,"c":"e","x":-580,"y":1185},
{"p":11,"r":4,"c":"n","x":0,"y":0},{"p":11,"r":4,"c":"n","x":-60,"y":500},{"p":11,"r":4,"c":"n","x":-345,"y":1155},
{"p":11,"r":5,"c":"m","x":0,"y":0},{"p":11,"r":5,"c":"m","x":-200,"y":500},{"p":11,"r":5,"c":"m","x":-270,"y":1135},
{"p":11,"r":6,"c":"y","x":0,"y":0},{"p":11,"r":6,"c":"y","x":-130,"y":500},{"p":11,"r":6,"c":"y","x":-175,"y":1125},
{"p":11,"r":7,"c":"k","x":15,"y":0},{"p":11,"r":7,"c":"k","x":15,"y":650},{"p":11,"r":7,"c":"k","x":-75,"y":850},{"p":11,"r":7,"c":"k","x":-120,"y":1260},
{"p":11,"r":8,"c":"e","x":0,"y":0},{"p":11,"r":8,"c":"e","x":-30,"y":650},{"p":11,"r":8,"c":"e","x":-65,"y":1305},
{"p":11,"r":9,"c":"k","x":0,"y":0},{"p":11,"r":9,"c":"k","x":100,"y":400},{"p":11,"r":9,"c":"k","x":210,"y":720},{"p":11,"r":9,"c":"k","x":130,"y":1065},
{"p":11,"r":10,"c":"e","x":0,"y":0},{"p":11,"r":10,"c":"e","x":60,"y":650},{"p":11,"r":10,"c":"e","x":120,"y":1325},
{"p":11,"r":11,"c":"b","x":0,"y":0},{"p":11,"r":11,"c":"b","x":60,"y":500},{"p":11,"r":11,"c":"b","x":165,"y":1090},
{"p":11,"r":12,"c":"g","x":0,"y":0},{"p":11,"r":12,"c":"g","x":80,"y":500},{"p":11,"r":12,"c":"g","x":255,"y":1110},
{"p":11,"r":13,"c":"n","x":0,"y":0},{"p":11,"r":13,"c":"n","x":255,"y":675},{"p":11,"r":13,"c":"n","x":445,"y":1285},
{"p":11,"r":14,"c":"b","x":0,"y":0},{"p":11,"r":14,"c":"b","x":290,"y":280},{"p":11,"r":14,"c":"b","x":505,"y":710},
{"p":11,"r":15,"c":"m","x":0,"y":0},{"p":11,"r":15,"c":"m","x":200,"y":350},{"p":11,"r":15,"c":"m","x":365,"y":845},
{"p":11,"r":16,"c":"e","x":0,"y":0},{"p":11,"r":16,"c":"e","x":170,"y":350},{"p":11,"r":16,"c":"e","x":320,"y":900},
{"p":11,"r":17,"c":"b","x":0,"y":0},{"p":11,"r":17,"c":"b","x":150,"y":90},{"p":11,"r":17,"c":"b","x":265,"y":235},
{"p":11,"r":18,"c":"n","x":0,"y":0},{"p":11,"r":18,"c":"n","x":-180,"y":100},{"p":11,"r":18,"c":"n","x":-315,"y":270},
{"p":11,"r":19,"c":"k","x":0,"y":0},{"p":11,"r":19,"c":"k","x":-170,"y":200},{"p":11,"r":19,"c":"k","x":-290,"y":560},
{"p":11,"r":20,"c":"g","x":0,"y":0},{"p":11,"r":20,"c":"g","x":-90,"y":350},{"p":11,"r":20,"c":"g","x":-175,"y":900},
{"p":11,"r":21,"c":"y","x":0,"y":0},{"p":11,"r":21,"c":"y","x":60,"y":200},{"p":11,"r":21,"c":"y","x":130,"y":500},
{"p":11,"r":22,"c":"r","x":0,"y":0},{"p":11,"r":22,"c":"r","x":-250,"y":500},{"p":11,"r":22,"c":"r","x":-490,"y":1325},
{"p":11,"r":23,"c":"r","x":0,"y":0},{"p":11,"r":23,"c":"r","x":-50,"y":350},{"p":11,"r":23,"c":"r","x":-95,"y":810},
{"p":11,"r":24,"c":"r","x":0,"y":0},{"p":11,"r":24,"c":"r","x":30,"y":500},{"p":11,"r":24,"c":"r","x":45,"y":1020},
{"p":11,"r":25,"c":"r","x":0,"y":0},{"p":11,"r":25,"c":"r","x":280,"y":420},{"p":11,"r":25,"c":"r","x":500,"y":1055},
{"p":11,"r":26,"c":"r","x":0,"y":0},{"p":11,"r":26,"c":"r","x":-120,"y":200},{"p":11,"r":26,"c":"r","x":-230,"y":450},
{"p":12,"r":1,"c":"k","x":0,"y":0},{"p":12,"r":1,"c":"k","x":-270,"y":230},{"p":12,"r":1,"c":"k","x":-490,"y":650},
{"p":12,"r":2,"c":"e","x":0,"y":0},{"p":12,"r":2,"c":"e","x":-290,"y":360},{"p":12,"r":2,"c":"e","x":-505,"y":935},
{"p":12,"r":3,"c":"k","x":0,"y":0},{"p":12,"r":3,"c":"k","x":-290,"y":420},{"p":12,"r":3,"c":"k","x":-490,"y":1160},
{"p":12,"r":4,"c":"n","x":0,"y":0},{"p":12,"r":4,"c":"n","x":-180,"y":600},{"p":12,"r":4,"c":"n","x":-410,"y":1285},
{"p":12,"r":5,"c":"e","x":0,"y":0},{"p":12,"r":5,"c":"e","x":-200,"y":600},{"p":12,"r":5,"c":"e","x":-425,"y":1310},
{"p":12,"r":6,"c":"b","x":0,"y":0},{"p":12,"r":6,"c":"b","x":-130,"y":550},{"p":12,"r":6,"c":"b","x":-220,"y":1210},
{"p":12,"r":7,"c":"k","x":0,"y":0},{"p":12,"r":7,"c":"k","x":-170,"y":500},{"p":12,"r":7,"c":"k","x":-285,"y":1150},
{"p":12,"r":8,"c":"y","x":0,"y":0},{"p":12,"r":8,"c":"y","x":130,"y":750},{"p":12,"r":8,"c":"y","x":-15,"y":1385},
{"p":12,"r":9,"c":"e","x":0,"y":0},{"p":12,"r":9,"c":"e","x":-50,"y":700},{"p":12,"r":9,"c":"e","x":-25,"y":1370},
{"p":12,"r":10,"c":"r","x":0,"y":0},{"p":12,"r":10,"c":"r","x":-60,"y":600},{"p":12,"r":10,"c":"r","x":-120,"y":1320},
{"p":12,"r":11,"c":"n","x":0,"y":0},{"p":12,"r":11,"c":"n","x":60,"y":650},{"p":12,"r":11,"c":"n","x":90,"y":1240},
{"p":12,"r":12,"c":"k","x":0,"y":0},{"p":12,"r":12,"c":"k","x":90,"y":650},{"p":12,"r":12,"c":"k","x":200,"y":1340},
{"p":12,"r":13,"c":"m","x":0,"y":0},{"p":12,"r":13,"c":"m","x":100,"y":600},{"p":12,"r":13,"c":"m","x":190,"y":1310},
{"p":12,"r":14,"c":"y","x":0,"y":0},{"p":12,"r":14,"c":"y","x":90,"y":450},{"p":12,"r":14,"c":"y","x":285,"y":1310},
{"p":12,"r":15,"c":"e","x":0,"y":0},{"p":12,"r":15,"c":"e","x":120,"y":700},{"p":12,"r":15,"c":"e","x":245,"y":1400},
{"p":12,"r":16,"c":"e","x":0,"y":0},{"p":12,"r":16,"c":"e","x":260,"y":600},{"p":12,"r":16,"c":"e","x":415,"y":1310},
{"p":12,"r":17,"c":"k","x":0,"y":0},{"p":12,"r":17,"c":"k","x":320,"y":500},{"p":12,"r":17,"c":"k","x":570,"y":1370},
{"p":12,"r":18,"c":"k","x":0,"y":0},{"p":12,"r":18,"c":"k","x":300,"y":420},{"p":12,"r":18,"c":"k","x":520,"y":1000},
{"p":12,"r":19,"c":"b","x":0,"y":0},{"p":12,"r":19,"c":"b","x":350,"y":380},{"p":12,"r":19,"c":"b","x":645,"y":965},
{"p":12,"r":20,"c":"m","x":0,"y":0},{"p":12,"r":20,"c":"m","x":290,"y":240},{"p":12,"r":20,"c":"m","x":535,"y":590},
{"p":12,"r":21,"c":"k","x":0,"y":0},{"p":12,"r":21,"c":"k","x":170,"y":130},{"p":12,"r":21,"c":"k","x":305,"y":350},
{"p":12,"r":22,"c":"n","x":0,"y":0},{"p":12,"r":22,"c":"n","x":170,"y":300},{"p":12,"r":22,"c":"n","x":305,"y":730},
{"p":12,"r":23,"c":"r","x":0,"y":0},{"p":12,"r":23,"c":"r","x":-280,"y":450},{"p":12,"r":23,"c":"r","x":-555,"y":1280},
{"p":12,"r":24,"c":"r","x":0,"y":0},{"p":12,"r":24,"c":"r","x":-130,"y":-15},{"p":12,"r":24,"c":"r","x":-285,"y":45},
{"p":12,"r":25,"c":"r","x":0,"y":0},{"p":12,"r":25,"c":"r","x":120,"y":0},{"p":12,"r":25,"c":"r","x":235,"y":35},
{"p":12,"r":26,"c":"r","x":0,"y":0},{"p":12,"r":26,"c":"r","x":200,"y":500},{"p":12,"r":26,"c":"r","x":370,"y":1180},
{"p":12,"r":27,"c":"g","x":0,"y":0},{"p":12,"r":27,"c":"g","x":30,"y":350},{"p":12,"r":27,"c":"g","x":65,"y":710},
{"p":12,"r":28,"c":"g","x":0,"y":0},{"p":12,"r":28,"c":"g","x":300,"y":500},{"p":12,"r":28,"c":"g","x":555,"y":1170},
{"p":12,"r":29,"c":"g","x":-80,"y":10},{"p":12,"r":29,"c":"g","x":60,"y":20},{"p":12,"r":29,"c":"g","x":150,"y":180},
{"p":13,"r":1,"c":"n","x":0,"y":0},{"p":13,"r":1,"c":"n","x":-300,"y":230},{"p":13,"r":1,"c":"n","x":-550,"y":630},
{"p":13,"r":2,"c":"b","x":0,"y":0},{"p":13,"r":2,"c":"b","x":-350,"y":320},{"p":13,"r":2,"c":"b","x":-620,"y":855},
{"p":13,"r":3,"c":"m","x":0,"y":0},{"p":13,"r":3,"c":"m","x":-340,"y":350},{"p":13,"r":3,"c":"m","x":-610,"y":950},
{"p":13,"r":4,"c":"n","x":0,"y":0},{"p":13,"r":4,"c":"n","x":-320,"y":460},{"p":13,"r":4,"c":"n","x":-615,"y":1215},
{"p":13,"r":5,"c":"r","x":0,"y":0},{"p":13,"r":5,"c":"r","x":-310,"y":380},{"p":13,"r":5,"c":"r","x":-570,"y":1000},
{"p":13,"r":6,"c":"k","x":0,"y":0},{"p":13,"r":6,"c":"k","x":-240,"y":450},{"p":13,"r":6,"c":"k","x":-445,"y":1175},
{"p":13,"r":7,"c":"r","x":0,"y":0},{"p":13,"r":7,"c":"r","x":-210,"y":480},{"p":13,"r":7,"c":"r","x":-415,"y":1175},
{"p":13,"r":8,"c":"e","x":0,"y":0},{"p":13,"r":8,"c":"e","x":-210,"y":500},{"p":13,"r":8,"c":"e","x":-370,"y":1220},
{"p":13,"r":9,"c":"m","x":0,"y":0},{"p":13,"r":9,"c":"m","x":-170,"y":500},{"p":13,"r":9,"c":"m","x":-315,"y":1150},
{"p":13,"r":10,"c":"n","x":0,"y":0},{"p":13,"r":10,"c":"n","x":-210,"y":700},{"p":13,"r":10,"c":"n","x":-250,"y":1265},
{"p":13,"r":11,"c":"k","x":0,"y":0},{"p":13,"r":11,"c":"k","x":-330,"y":500},{"p":13,"r":11,"c":"k","x":-220,"y":1325},
{"p":13,"r":12,"c":"e","x":0,"y":0},{"p":13,"r":12,"c":"e","x":-90,"y":600},{"p":13,"r":12,"c":"e","x":-160,"y":1330},
{"p":13,"r":13,"c":"b","x":0,"y":0},{"p":13,"r":13,"c":"b","x":35,"y":800},{"p":13,"r":13,"c":"b","x":35,"y":1150},{"p":13,"r":13,"c":"b","x":-60,"y":1435},
{"p":13,"r":14,"c":"y","x":0,"y":0},{"p":13,"r":14,"c":"y","x":-40,"y":500},{"p":13,"r":14,"c":"y","x":-95,"y":1040},
{"p":13,"r":15,"c":"k","x":0,"y":0},{"p":13,"r":15,"c":"k","x":60,"y":700},{"p":13,"r":15,"c":"k","x":165,"y":1335},
{"p":13,"r":16,"c":"k","x":0,"y":0},{"p":13,"r":16,"c":"k","x":60,"y":700},{"p":13,"r":16,"c":"k","x":255,"y":1235},
{"p":13,"r":17,"c":"k","x":0,"y":0},{"p":13,"r":17,"c":"k","x":230,"y":400},{"p":13,"r":17,"c":"k","x":420,"y":950},
{"p":13,"r":18,"c":"b","x":0,"y":0},{"p":13,"r":18,"c":"b","x":200,"y":500},{"p":13,"r":18,"c":"b","x":350,"y":1050},
{"p":13,"r":19,"c":"e","x":0,"y":0},{"p":13,"r":19,"c":"e","x":200,"y":600},{"p":13,"r":19,"c":"e","x":440,"y":1200},
{"p":13,"r":20,"c":"y","x":0,"y":0},{"p":13,"r":20,"c":"y","x":320,"y":350},{"p":13,"r":20,"c":"y","x":560,"y":985},
{"p":13,"r":21,"c":"m","x":0,"y":0},{"p":13,"r":21,"c":"m","x":360,"y":320},{"p":13,"r":21,"c":"m","x":650,"y":875},
{"p":13,"r":22,"c":"m","x":0,"y":0},{"p":13,"r":22,"c":"m","x":140,"y":350},{"p":13,"r":22,"c":"m","x":255,"y":800},
{"p":13,"r":23,"c":"b","x":0,"y":0},{"p":13,"r":23,"c":"b","x":290,"y":250},{"p":13,"r":23,"c":"b","x":525,"y":660},
{"p":13,"r":24,"c":"r","x":0,"y":0},{"p":13,"r":24,"c":"r","x":220,"y":50},{"p":13,"r":24,"c":"r","x":370,"y":200},
{"p":13,"r":25,"c":"g","x":0,"y":0},{"p":13,"r":25,"c":"g","x":180,"y":450},{"p":13,"r":25,"c":"g","x":330,"y":985},
{"p":13,"r":26,"c":"g","x":0,"y":0},{"p":13,"r":26,"c":"g","x":-230,"y":350},{"p":13,"r":26,"c":"g","x":-300,"y":800},
{"p":13,"r":27,"c":"g","x":0,"y":0},{"p":13,"r":27,"c":"g","x":-60,"y":600},{"p":13,"r":27,"c":"g","x":-115,"y":1340},
{"p":13,"r":28,"c":"g","x":0,"y":0},{"p":13,"r":28,"c":"g","x":-200,"y":100},{"p":13,"r":28,"c":"g","x":-330,"y":320},
{"p":14,"r":1,"c":"e","x":0,"y":0},{"p":14,"r":1,"c":"e","x":-300,"y":350},{"p":14,"r":1,"c":"e","x":-540,"y":950},
{"p":14,"r":2,"c":"k","x":0,"y":0},{"p":14,"r":2,"c":"k","x":-250,"y":300},{"p":14,"r":2,"c":"k","x":-450,"y":860},
{"p":14,"r":3,"c":"m","x":0,"y":0},{"p":14,"r":3,"c":"m","x":-320,"y":170},{"p":14,"r":3,"c":"m","x":-600,"y":460},
{"p":14,"r":4,"c":"n","x":0,"y":0},{"p":14,"r":4,"c":"n","x":-320,"y":260},{"p":14,"r":4,"c":"n","x":-560,"y":700},
{"p":14,"r":5,"c":"r","x":0,"y":0},{"p":14,"r":5,"c":"r","x":-290,"y":260},{"p":14,"r":5,"c":"r","x":-515,"y":700},
{"p":14,"r":6,"c":"r","x":0,"y":0},{"p":14,"r":6,"c":"r","x":-320,"y":400},{"p":14,"r":6,"c":"r","x":-580,"y":1000},
{"p":14,"r":7,"c":"b","x":0,"y":0},{"p":14,"r":7,"c":"b","x":-210,"y":360},{"p":14,"r":7,"c":"b","x":-375,"y":940},
{"p":14,"r":8,"c":"y","x":0,"y":0},{"p":14,"r":8,"c":"y","x":-200,"y":350},{"p":14,"r":8,"c":"y","x":-365,"y":925},
{"p":14,"r":9,"c":"n","x":0,"y":0},{"p":14,"r":9,"c":"n","x":-190,"y":400},{"p":14,"r":9,"c":"n","x":-355,"y":1050},
{"p":14,"r":10,"c":"k","x":0,"y":0},{"p":14,"r":10,"c":"k","x":-90,"y":300},{"p":14,"r":10,"c":"k","x":-165,"y":770},
{"p":14,"r":11,"c":"e","x":0,"y":0},{"p":14,"r":11,"c":"e","x":-40,"y":450},{"p":14,"r":11,"c":"e","x":-130,"y":940},
{"p":14,"r":12,"c":"k","x":0,"y":0},{"p":14,"r":12,"c":"k","x":20,"y":250},{"p":14,"r":12,"c":"k","x":10,"y":500},
{"p":14,"r":13,"c":"r","x":0,"y":0},{"p":14,"r":13,"c":"r","x":10,"y":500},{"p":14,"r":13,"c":"r","x":20,"y":1040},
{"p":14,"r":14,"c":"n","x":0,"y":0},{"p":14,"r":14,"c":"n","x":70,"y":500},{"p":14,"r":14,"c":"n","x":120,"y":1040},
{"p":14,"r":15,"c":"b","x":0,"y":0},{"p":14,"r":15,"c":"b","x":130,"y":500},{"p":14,"r":15,"c":"b","x":295,"y":1065},
{"p":14,"r":16,"c":"b","x":0,"y":0},{"p":14,"r":16,"c":"b","x":100,"y":500},{"p":14,"r":16,"c":"b","x":270,"y":925},
{"p":14,"r":17,"c":"n","x":0,"y":0},{"p":14,"r":17,"c":"n","x":100,"y":300},{"p":14,"r":17,"c":"n","x":205,"y":800},
{"p":14,"r":18,"c":"n","x":0,"y":0},{"p":14,"r":18,"c":"n","x":200,"y":350},{"p":14,"r":18,"c":"n","x":350,"y":860},
{"p":14,"r":19,"c":"y","x":0,"y":0},{"p":14,"r":19,"c":"y","x":200,"y":400},{"p":14,"r":19,"c":"y","x":455,"y":885},
{"p":14,"r":20,"c":"r","x":0,"y":0},{"p":14,"r":20,"c":"r","x":310,"y":500},{"p":14,"r":20,"c":"r","x":570,"y":1080},
{"p":14,"r":21,"c":"m","x":0,"y":0},{"p":14,"r":21,"c":"m","x":340,"y":330},{"p":14,"r":21,"c":"m","x":620,"y":870},
{"p":14,"r":22,"c":"e","x":0,"y":0},{"p":14,"r":22,"c":"e","x":250,"y":200},{"p":14,"r":22,"c":"e","x":445,"y":530},
{"p":14,"r":23,"c":"k","x":0,"y":0},{"p":14,"r":23,"c":"k","x":220,"y":220},{"p":14,"r":23,"c":"k","x":405,"y":570},
{"p":14,"r":24,"c":"r","x":0,"y":0},{"p":14,"r":24,"c":"r","x":320,"y":110},{"p":14,"r":24,"c":"r","x":565,"y":320},
{"p":14,"r":25,"c":"b","x":0,"y":0},{"p":14,"r":25,"c":"b","x":230,"y":150},{"p":14,"r":25,"c":"b","x":440,"y":400},
{"p":14,"r":26,"c":"r","x":0,"y":0},{"p":14,"r":26,"c":"r","x":120,"y":-5},{"p":14,"r":26,"c":"r","x":230,"y":0},
{"p":14,"r":27,"c":"m","x":0,"y":0},{"p":14,"r":27,"c":"m","x":-160,"y":40},{"p":14,"r":27,"c":"m","x":-290,"y":145},
{"p":14,"r":28,"c":"g","x":0,"y":0},{"p":14,"r":28,"c":"g","x":-200,"y":120},{"p":14,"r":28,"c":"g","x":-395,"y":310},
{"p":14,"r":29,"c":"g","x":0,"y":0},{"p":14,"r":29,"c":"g","x":-120,"y":350},{"p":14,"r":29,"c":"g","x":-240,"y":925},
{"p":14,"r":30,"c":"g","x":0,"y":0},{"p":14,"r":30,"c":"g","x":200,"y":100},{"p":14,"r":30,"c":"g","x":360,"y":280},
{"p":14,"r":31,"c":"g","x":0,"y":0},{"p":14,"r":31,"c":"g","x":-230,"y":260},{"p":14,"r":31,"c":"g","x":-420,"y":700},
{"p":15,"r":1,"c":"b","x":0,"y":0},{"p":15,"r":1,"c":"b","x":-320,"y":170},{"p":15,"r":1,"c":"b","x":-590,"y":530},
{"p":15,"r":2,"c":"y","x":0,"y":0},{"p":15,"r":2,"c":"y","x":-260,"y":280},{"p":15,"r":2,"c":"y","x":-490,"y":810},
{"p":15,"r":3,"c":"m","x":0,"y":0},{"p":15,"r":3,"c":"m","x":-280,"y":400},{"p":15,"r":3,"c":"m","x":-480,"y":1030},
{"p":15,"r":4,"c":"e","x":0,"y":0},{"p":15,"r":4,"c":"e","x":-240,"y":380},{"p":15,"r":4,"c":"e","x":-415,"y":930},
{"p":15,"r":5,"c":"r","x":0,"y":0},{"p":15,"r":5,"c":"r","x":-200,"y":450},{"p":15,"r":5,"c":"r","x":-350,"y":1095},
{"p":15,"r":6,"c":"n","x":0,"y":0},{"p":15,"r":6,"c":"n","x":-200,"y":320},{"p":15,"r":6,"c":"n","x":-380,"y":800},
{"p":15,"r":7,"c":"k","x":0,"y":0},{"p":15,"r":7,"c":"k","x":-160,"y":450},{"p":15,"r":7,"c":"k","x":-250,"y":1075},
{"p":15,"r":8,"c":"b","x":0,"y":0},{"p":15,"r":8,"c":"b","x":-100,"y":500},{"p":15,"r":8,"c":"b","x":-150,"y":1150},
{"p":15,"r":9,"c":"e","x":0,"y":0},{"p":15,"r":9,"c":"e","x":-90,"y":480},{"p":15,"r":9,"c":"e","x":-170,"y":1080},
{"p":15,"r":10,"c":"k","x":0,"y":0},{"p":15,"r":10,"c":"k","x":-20,"y":500},{"p":15,"r":10,"c":"k","x":-50,"y":1120},
{"p":15,"r":11,"c":"b","x":0,"y":0},{"p":15,"r":11,"c":"b","x":10,"y":500},{"p":15,"r":11,"c":"b","x":20,"y":1040},
{"p":15,"r":12,"c":"k","x":0,"y":0},{"p":15,"r":12,"c":"k","x":-10,"y":500},{"p":15,"r":12,"c":"k","x":85,"y":990},
{"p":15,"r":13,"c":"k","x":0,"y":0},{"p":15,"r":13,"c":"k","x":255,"y":480},{"p":15,"r":13,"c":"k","x":250,"y":800},{"p":15,"r":13,"c":"k","x":240,"y":1215},
{"p":15,"r":14,"c":"m","x":0,"y":0},{"p":15,"r":14,"c":"m","x":250,"y":350},{"p":15,"r":14,"c":"m","x":350,"y":825},
{"p":15,"r":15,"c":"g","x":0,"y":0},{"p":15,"r":15,"c":"g","x":100,"y":300},{"p":15,"r":15,"c":"g","x":180,"y":690},
{"p":15,"r":16,"c":"y","x":0,"y":0},{"p":15,"r":16,"c":"y","x":70,"y":350},{"p":15,"r":16,"c":"y","x":245,"y":720},
{"p":15,"r":17,"c":"b","x":0,"y":0},{"p":15,"r":17,"c":"b","x":200,"y":170},{"p":15,"r":17,"c":"b","x":355,"y":390},
{"p":15,"r":18,"c":"k","x":0,"y":0},{"p":15,"r":18,"c":"k","x":200,"y":60},{"p":15,"r":18,"c":"k","x":310,"y":255},
{"p":15,"r":19,"c":"y","x":0,"y":0},{"p":15,"r":19,"c":"y","x":140,"y":30},{"p":15,"r":19,"c":"y","x":210,"y":110},
{"p":15,"r":20,"c":"g","x":0,"y":0},{"p":15,"r":20,"c":"g","x":-150,"y":300},{"p":15,"r":20,"c":"g","x":-270,"y":800},
{"p":15,"r":21,"c":"y","x":0,"y":0},{"p":15,"r":21,"c":"y","x":-150,"y":100},{"p":15,"r":21,"c":"y","x":-270,"y":300},
{"p":15,"r":22,"c":"g","x":0,"y":0},{"p":15,"r":22,"c":"g","x":90,"y":100},{"p":15,"r":22,"c":"g","x":170,"y":300},
{"p":15,"r":23,"c":"r","x":0,"y":0},{"p":15,"r":23,"c":"r","x":-40,"y":300},{"p":15,"r":23,"c":"r","x":-60,"y":720},
{"p":15,"r":24,"c":"r","x":0,"y":0},{"p":15,"r":24,"c":"r","x":90,"y":450},{"p":15,"r":24,"c":"r","x":115,"y":950},
{"p":15,"r":25,"c":"r","x":0,"y":0},{"p":15,"r":25,"c":"r","x":240,"y":300},{"p":15,"r":25,"c":"r","x":380,"y":660},
{"p":15,"r":26,"c":"n","x":0,"y":0},{"p":15,"r":26,"c":"n","x":-90,"y":300},{"p":15,"r":26,"c":"n","x":-150,"y":650},
{"p":15,"r":27,"c":"n","x":-30,"y":0},{"p":15,"r":27,"c":"n","x":70,"y":-20},{"p":15,"r":27,"c":"n","x":150,"y":-10},
{"p":16,"r":1,"c":"g","x":0,"y":0},{"p":16,"r":1,"c":"g","x":-415,"y":220},{"p":16,"r":1,"c":"g","x":-645,"y":510},
{"p":16,"r":2,"c":"g","x":0,"y":0},{"p":16,"r":2,"c":"g","x":-340,"y":250},{"p":16,"r":2,"c":"g","x":-590,"y":590},
{"p":16,"r":3,"c":"m","x":0,"y":0},{"p":16,"r":3,"c":"m","x":-220,"y":250},{"p":16,"r":3,"c":"m","x":-365,"y":640},
{"p":16,"r":4,"c":"n","x":0,"y":0},{"p":16,"r":4,"c":"n","x":-130,"y":300},{"p":16,"r":4,"c":"n","x":-220,"y":730},
{"p":16,"r":5,"c":"e","x":0,"y":0},{"p":16,"r":5,"c":"e","x":-20,"y":300},{"p":16,"r":5,"c":"e","x":-35,"y":655},
{"p":16,"r":6,"c":"b","x":0,"y":0},{"p":16,"r":6,"c":"b","x":5,"y":300},{"p":16,"r":6,"c":"b","x":10,"y":635},
{"p":16,"r":7,"c":"g","x":0,"y":0},{"p":16,"r":7,"c":"g","x":40,"y":400},{"p":16,"r":7,"c":"g","x":50,"y":810},
{"p":16,"r":8,"c":"g","x":0,"y":0},{"p":16,"r":8,"c":"g","x":265,"y":525},{"p":16,"r":8,"c":"g","x":400,"y":850},{"p":16,"r":8,"c":"g","x":525,"y":1250},
{"p":16,"r":9,"c":"y","x":0,"y":0},{"p":16,"r":9,"c":"y","x":170,"y":280},{"p":16,"r":9,"c":"y","x":305,"y":635},
{"p":16,"r":10,"c":"n","x":0,"y":0},{"p":16,"r":10,"c":"n","x":210,"y":220},{"p":16,"r":10,"c":"n","x":370,"y":555},
{"p":16,"r":11,"c":"b","x":0,"y":0},{"p":16,"r":11,"c":"b","x":250,"y":200},{"p":16,"r":11,"c":"b","x":430,"y":515},
{"p":16,"r":12,"c":"m","x":0,"y":0},{"p":16,"r":12,"c":"m","x":230,"y":0},{"p":16,"r":12,"c":"m","x":380,"y":180},{"p":16,"r":12,"c":"m","x":425,"y":415},
{"p":16,"r":13,"c":"m","x":0,"y":0},{"p":16,"r":13,"c":"m","x":130,"y":-10},{"p":16,"r":13,"c":"m","x":330,"y":250},
{"p":16,"r":14,"c":"r","x":0,"y":0},{"p":16,"r":14,"c":"r","x":70,"y":180},{"p":16,"r":14,"c":"r","x":130,"y":395},
{"p":16,"r":15,"c":"k","x":0,"y":0},{"p":16,"r":15,"c":"k","x":-150,"y":180},{"p":16,"r":15,"c":"k","x":-260,"y":440},
{"p":16,"r":16,"c":"n","x":0,"y":0},{"p":16,"r":16,"c":"n","x":-180,"y":130},{"p":16,"r":16,"c":"n","x":-315,"y":340},
{"p":16,"r":17,"c":"b","x":0,"y":0},{"p":16,"r":17,"c":"b","x":-170,"y":90},{"p":16,"r":17,"c":"b","x":-300,"y":260},
{"p":16,"r":18,"c":"m","x":0,"y":0},{"p":16,"r":18,"c":"m","x":-70,"y":200},{"p":16,"r":18,"c":"m","x":-120,"y":505},
{"p":16,"r":19,"c":"e","x":0,"y":0},{"p":16,"r":19,"c":"e","x":140,"y":100},{"p":16,"r":19,"c":"e","x":260,"y":260},
{"p":16,"r":20,"c":"g","x":0,"y":0},{"p":16,"r":20,"c":"g","x":90,"y":80},{"p":16,"r":20,"c":"g","x":170,"y":300},
{"p":16,"r":21,"c":"y","x":0,"y":0},{"p":16,"r":21,"c":"y","x":-60,"y":200},{"p":16,"r":21,"c":"y","x":-110,"y":440},
{"p":17,"r":1,"c":"e","x":0,"y":0},{"p":17,"r":1,"c":"e","x":45,"y":700},{"p":17,"r":1,"c":"e","x":90,"y":1370},
{"p":17,"r":2,"c":"e","x":0,"y":0},{"p":17,"r":2,"c":"e","x":160,"y":250},{"p":17,"r":2,"c":"e","x":330,"y":600},
{"p":17,"r":3,"c":"k","x":0,"y":0},{"p":17,"r":3,"c":"k","x":170,"y":100},{"p":17,"r":3,"c":"k","x":300,"y":365},
{"p":17,"r":4,"c":"k","x":0,"y":0},{"p":17,"r":4,"c":"k","x":170,"y":50},{"p":17,"r":4,"c":"k","x":300,"y":190},
{"p":17,"r":5,"c":"k","x":0,"y":0},{"p":17,"r":5,"c":"k","x":-270,"y":450},{"p":17,"r":5,"c":"k","x":-510,"y":1015},
{"p":17,"r":6,"c":"k","x":0,"y":0},{"p":17,"r":6,"c":"k","x":100,"y":500},{"p":17,"r":6,"c":"k","x":-15,"y":1080},
{"p":17,"r":7,"c":"b","x":0,"y":0},{"p":17,"r":7,"c":"b","x":-280,"y":500},{"p":17,"r":7,"c":"b","x":-525,"y":950},
{"p":17,"r":8,"c":"b","x":0,"y":0},{"p":17,"r":8,"c":"b","x":-200,"y":550},{"p":17,"r":8,"c":"b","x":-450,"y":1080},
{"p":17,"r":9,"c":"y","x":0,"y":0},{"p":17,"r":9,"c":"y","x":-250,"y":450},{"p":17,"r":9,"c":"y","x":-490,"y":1050},
{"p":17,"r":10,"c":"y","x":0,"y":0},{"p":17,"r":10,"c":"y","x":-60,"y":350},{"p":17,"r":10,"c":"y","x":-120,"y":780},
{"p":17,"r":11,"c":"m","x":0,"y":0},{"p":17,"r":11,"c":"m","x":-160,"y":330},{"p":17,"r":11,"c":"m","x":-295,"y":775},
{"p":17,"r":12,"c":"m","x":0,"y":0},{"p":17,"r":12,"c":"m","x":120,"y":500},{"p":17,"r":12,"c":"m","x":110,"y":1100},
{"p":17,"r":13,"c":"n","x":0,"y":0},{"p":17,"r":13,"c":"n","x":-40,"y":500},{"p":17,"r":13,"c":"n","x":-60,"y":1100},
{"p":17,"r":14,"c":"m","x":-140,"y":0},{"p":17,"r":14,"c":"m","x":-70,"y":-20},{"p":17,"r":14,"c":"m","x":10,"y":0},
{"p":17,"r":15,"c":"y","x":0,"y":0},{"p":17,"r":15,"c":"y","x":60,"y":300},{"p":17,"r":15,"c":"y","x":130,"y":700},
{"p":17,"r":16,"c":"r","x":0,"y":0},{"p":17,"r":16,"c":"r","x":-505,"y":480},{"p":17,"r":16,"c":"r","x":-645,"y":720},
{"p":17,"r":17,"c":"r","x":0,"y":0},{"p":17,"r":17,"c":"r","x":-300,"y":320},{"p":17,"r":17,"c":"r","x":-560,"y":730},
{"p":17,"r":18,"c":"r","x":0,"y":0},{"p":17,"r":18,"c":"r","x":100,"y":600},{"p":17,"r":18,"c":"r","x":-90,"y":1040},
{"p":17,"r":19,"c":"g","x":0,"y":0},{"p":17,"r":19,"c":"g","x":-240,"y":110},{"p":17,"r":19,"c":"g","x":-450,"y":255},
{"p":17,"r":20,"c":"g","x":0,"y":0},{"p":17,"r":20,"c":"g","x":-150,"y":400},{"p":17,"r":20,"c":"g","x":-280,"y":940},
{"p":17,"r":21,"c":"g","x":0,"y":0},{"p":17,"r":21,"c":"g","x":70,"y":350},{"p":17,"r":21,"c":"g","x":125,"y":760},
{"p":17,"r":22,"c":"g","x":0,"y":0},{"p":17,"r":22,"c":"g","x":170,"y":200},{"p":17,"r":22,"c":"g","x":235,"y":595},
{"p":17,"r":23,"c":"g","x":0,"y":0},{"p":17,"r":23,"c":"g","x":-200,"y":300},{"p":17,"r":23,"c":"g","x":-390,"y":850}
]},"config":{"view":{"stroke":"#222","strokeWidth":1.5},"font":"Liberation Sans","title":{"fontSize":12.5,"fontWeight":"bold","color":"#222","offset":19,"anchor":"middle","font":"Liberation Sans"},"line":{"strokeWidth":2,"interpolate":"cardinal","strokeCap":"round"},"axis":{"title":null,"grid":false,"domain":false,"tickColor":"#222","tickWidth":1,"tickSize":8,"labelFont":"Liberation Sans","labelFontSize":11.5,"labelColor":"#333","labelOverlap":false,"labelBound":false,"labelPadding":5},"axisY":{"labelAngle":-90,"labelAlign":"center","labelBaseline":"bottom","format":"d"}},"concat":[
{"title":"W199,N−","width":111,"height":127,"transform":[{"filter":{"field":"p","equal":1}}],"mark":"line","encoding":{"x":{"field":"x","type":"quantitative","scale":{"domain":[-731,726],"nice":false,"zero":false},"axis":{"values":[-600,-400,-200,0,200,400,600],"labelExpr":"datum.value==-600?'−600':datum.value==0?'0':datum.value==400?'400':''"}},"y":{"field":"y","type":"quantitative","scale":{"domain":[-104,1608],"reverse":true,"nice":false,"zero":false},"axis":{"values":[0,500,1000,1500]}},"order":{"value":null},"detail":{"field":"r"},"color":{"field":"c","type":"nominal","legend":null,"scale":{"domain":["k","e","b","r","g","m","y","n"],"range":["#231F20","#C8C8C8","#27AAE1","#ED1C24","#00984A","#EC008C","#FFF200","#2E3192"]}}}},
{"title":"W483,N−","width":111,"height":127,"transform":[{"filter":{"field":"p","equal":2}}],"mark":"line","encoding":{"x":{"field":"x","type":"quantitative","scale":{"domain":[-731,726],"nice":false,"zero":false},"axis":{"values":[-600,-400,-200,0,200,400,600],"labelExpr":"datum.value==-600?'−600':datum.value==0?'0':datum.value==400?'400':''"}},"y":{"field":"y","type":"quantitative","scale":{"domain":[-104,1608],"reverse":true,"nice":false,"zero":false},"axis":{"values":[0,500,1000,1500]}},"order":{"value":null},"detail":{"field":"r"},"color":{"field":"c","type":"nominal","legend":null,"scale":{"domain":["k","e","b","r","g","m","y","n"],"range":["#231F20","#C8C8C8","#27AAE1","#ED1C24","#00984A","#EC008C","#FFF200","#2E3192"]}}}},
{"title":"W700,N−","width":111,"height":127,"transform":[{"filter":{"field":"p","equal":3}}],"mark":"line","encoding":{"x":{"field":"x","type":"quantitative","scale":{"domain":[-731,726],"nice":false,"zero":false},"axis":{"values":[-600,-400,-200,0,200,400,600],"labelExpr":"datum.value==-600?'−600':datum.value==0?'0':datum.value==400?'400':''"}},"y":{"field":"y","type":"quantitative","scale":{"domain":[-104,1608],"reverse":true,"nice":false,"zero":false},"axis":{"values":[0,500,1000,1500]}},"order":{"value":null},"detail":{"field":"r"},"color":{"field":"c","type":"nominal","legend":null,"scale":{"domain":["k","e","b","r","g","m","y","n"],"range":["#231F20","#C8C8C8","#27AAE1","#ED1C24","#00984A","#EC008C","#FFF200","#2E3192"]}}}},
{"title":"W705,N−","width":111,"height":127,"transform":[{"filter":{"field":"p","equal":4}}],"mark":"line","encoding":{"x":{"field":"x","type":"quantitative","scale":{"domain":[-731,726],"nice":false,"zero":false},"axis":{"values":[-600,-400,-200,0,200,400,600],"labelExpr":"datum.value==-600?'−600':datum.value==0?'0':datum.value==400?'400':''"}},"y":{"field":"y","type":"quantitative","scale":{"domain":[-104,1608],"reverse":true,"nice":false,"zero":false},"axis":{"values":[0,500,1000,1500]}},"order":{"value":null},"detail":{"field":"r"},"color":{"field":"c","type":"nominal","legend":null,"scale":{"domain":["k","e","b","r","g","m","y","n"],"range":["#231F20","#C8C8C8","#27AAE1","#ED1C24","#00984A","#EC008C","#FFF200","#2E3192"]}}}},
{"data":{"values":[{"a":0}]},"width":111,"height":127,"view":{"stroke":null},"mark":{"type":"point","opacity":0},"encoding":{}},
{"data":{"values":[{"a":0}]},"width":111,"height":127,"view":{"stroke":null},"mark":{"type":"point","opacity":0},"encoding":{}},
{"title":"W483,N+","width":111,"height":127,"transform":[{"filter":{"field":"p","equal":5}}],"mark":"line","encoding":{"x":{"field":"x","type":"quantitative","scale":{"domain":[-731,726],"nice":false,"zero":false},"axis":{"values":[-600,-400,-200,0,200,400,600],"labelExpr":"datum.value==-600?'−600':datum.value==0?'0':datum.value==400?'400':''"}},"y":{"field":"y","type":"quantitative","scale":{"domain":[-104,1608],"reverse":true,"nice":false,"zero":false},"axis":{"values":[0,500,1000,1500]}},"order":{"value":null},"detail":{"field":"r"},"color":{"field":"c","type":"nominal","legend":null,"scale":{"domain":["k","e","b","r","g","m","y","n"],"range":["#231F20","#C8C8C8","#27AAE1","#ED1C24","#00984A","#EC008C","#FFF200","#2E3192"]}}}},
{"title":"W700,N+","width":111,"height":127,"transform":[{"filter":{"field":"p","equal":6}}],"mark":"line","encoding":{"x":{"field":"x","type":"quantitative","scale":{"domain":[-731,726],"nice":false,"zero":false},"axis":{"values":[-600,-400,-200,0,200,400,600],"labelExpr":"datum.value==-600?'−600':datum.value==0?'0':datum.value==400?'400':''"}},"y":{"field":"y","type":"quantitative","scale":{"domain":[-104,1608],"reverse":true,"nice":false,"zero":false},"axis":{"values":[0,500,1000,1500]}},"order":{"value":null},"detail":{"field":"r"},"color":{"field":"c","type":"nominal","legend":null,"scale":{"domain":["k","e","b","r","g","m","y","n"],"range":["#231F20","#C8C8C8","#27AAE1","#ED1C24","#00984A","#EC008C","#FFF200","#2E3192"]}}}},
{"title":"W705,N+","width":111,"height":127,"transform":[{"filter":{"field":"p","equal":7}}],"mark":"line","encoding":{"x":{"field":"x","type":"quantitative","scale":{"domain":[-731,726],"nice":false,"zero":false},"axis":{"values":[-600,-400,-200,0,200,400,600],"labelExpr":"datum.value==-600?'−600':datum.value==0?'0':datum.value==400?'400':''"}},"y":{"field":"y","type":"quantitative","scale":{"domain":[-104,1608],"reverse":true,"nice":false,"zero":false},"axis":{"values":[0,500,1000,1500]}},"order":{"value":null},"detail":{"field":"r"},"color":{"field":"c","type":"nominal","legend":null,"scale":{"domain":["k","e","b","r","g","m","y","n"],"range":["#231F20","#C8C8C8","#27AAE1","#ED1C24","#00984A","#EC008C","#FFF200","#2E3192"]}}}},
{"data":{"values":[{"a":0}]},"width":111,"height":127,"view":{"stroke":null},"mark":{"type":"point","opacity":0},"encoding":{}},
{"title":"W145,N−","width":111,"height":127,"transform":[{"filter":{"field":"p","equal":8}}],"mark":"line","encoding":{"x":{"field":"x","type":"quantitative","scale":{"domain":[-731,726],"nice":false,"zero":false},"axis":{"values":[-600,-400,-200,0,200,400,600],"labelExpr":"datum.value==-600?'−600':datum.value==0?'0':datum.value==400?'400':''"}},"y":{"field":"y","type":"quantitative","scale":{"domain":[-104,1608],"reverse":true,"nice":false,"zero":false},"axis":{"values":[0,500,1000,1500]}},"order":{"value":null},"detail":{"field":"r"},"color":{"field":"c","type":"nominal","legend":null,"scale":{"domain":["k","e","b","r","g","m","y","n"],"range":["#231F20","#C8C8C8","#27AAE1","#ED1C24","#00984A","#EC008C","#FFF200","#2E3192"]}}}},
{"title":"W149,N−","width":111,"height":127,"transform":[{"filter":{"field":"p","equal":9}}],"mark":"line","encoding":{"x":{"field":"x","type":"quantitative","scale":{"domain":[-731,726],"nice":false,"zero":false},"axis":{"values":[-600,-400,-200,0,200,400,600],"labelExpr":"datum.value==-600?'−600':datum.value==0?'0':datum.value==400?'400':''"}},"y":{"field":"y","type":"quantitative","scale":{"domain":[-104,1608],"reverse":true,"nice":false,"zero":false},"axis":{"values":[0,500,1000,1500]}},"order":{"value":null},"detail":{"field":"r"},"color":{"field":"c","type":"nominal","legend":null,"scale":{"domain":["k","e","b","r","g","m","y","n"],"range":["#231F20","#C8C8C8","#27AAE1","#ED1C24","#00984A","#EC008C","#FFF200","#2E3192"]}}}},
{"title":"W325,N−","width":111,"height":127,"transform":[{"filter":{"field":"p","equal":10}}],"mark":"line","encoding":{"x":{"field":"x","type":"quantitative","scale":{"domain":[-731,726],"nice":false,"zero":false},"axis":{"values":[-600,-400,-200,0,200,400,600],"labelExpr":"datum.value==-600?'−600':datum.value==0?'0':datum.value==400?'400':''"}},"y":{"field":"y","type":"quantitative","scale":{"domain":[-104,1608],"reverse":true,"nice":false,"zero":false},"axis":{"values":[0,500,1000,1500]}},"order":{"value":null},"detail":{"field":"r"},"color":{"field":"c","type":"nominal","legend":null,"scale":{"domain":["k","e","b","r","g","m","y","n"],"range":["#231F20","#C8C8C8","#27AAE1","#ED1C24","#00984A","#EC008C","#FFF200","#2E3192"]}}}},
{"title":"W637,N−","width":111,"height":127,"transform":[{"filter":{"field":"p","equal":11}}],"mark":"line","encoding":{"x":{"field":"x","type":"quantitative","scale":{"domain":[-731,726],"nice":false,"zero":false},"axis":{"values":[-600,-400,-200,0,200,400,600],"labelExpr":"datum.value==-600?'−600':datum.value==0?'0':datum.value==400?'400':''"}},"y":{"field":"y","type":"quantitative","scale":{"domain":[-104,1608],"reverse":true,"nice":false,"zero":false},"axis":{"values":[0,500,1000,1500]}},"order":{"value":null},"detail":{"field":"r"},"color":{"field":"c","type":"nominal","legend":null,"scale":{"domain":["k","e","b","r","g","m","y","n"],"range":["#231F20","#C8C8C8","#27AAE1","#ED1C24","#00984A","#EC008C","#FFF200","#2E3192"]}}}},
{"title":"W685,N−","width":111,"height":127,"transform":[{"filter":{"field":"p","equal":12}}],"mark":"line","encoding":{"x":{"field":"x","type":"quantitative","scale":{"domain":[-731,726],"nice":false,"zero":false},"axis":{"values":[-600,-400,-200,0,200,400,600],"labelExpr":"datum.value==-600?'−600':datum.value==0?'0':datum.value==400?'400':''"}},"y":{"field":"y","type":"quantitative","scale":{"domain":[-104,1608],"reverse":true,"nice":false,"zero":false},"axis":{"values":[0,500,1000,1500]}},"order":{"value":null},"detail":{"field":"r"},"color":{"field":"c","type":"nominal","legend":null,"scale":{"domain":["k","e","b","r","g","m","y","n"],"range":["#231F20","#C8C8C8","#27AAE1","#ED1C24","#00984A","#EC008C","#FFF200","#2E3192"]}}}},
{"title":"W145,N+","width":111,"height":127,"transform":[{"filter":{"field":"p","equal":13}}],"mark":"line","encoding":{"x":{"field":"x","type":"quantitative","scale":{"domain":[-731,726],"nice":false,"zero":false},"axis":{"values":[-600,-400,-200,0,200,400,600],"labelExpr":"datum.value==-600?'−600':datum.value==0?'0':datum.value==400?'400':''"}},"y":{"field":"y","type":"quantitative","scale":{"domain":[-104,1608],"reverse":true,"nice":false,"zero":false},"axis":{"values":[0,500,1000,1500]}},"order":{"value":null},"detail":{"field":"r"},"color":{"field":"c","type":"nominal","legend":null,"scale":{"domain":["k","e","b","r","g","m","y","n"],"range":["#231F20","#C8C8C8","#27AAE1","#ED1C24","#00984A","#EC008C","#FFF200","#2E3192"]}}}},
{"title":"W149,N+","width":111,"height":127,"transform":[{"filter":{"field":"p","equal":14}}],"mark":"line","encoding":{"x":{"field":"x","type":"quantitative","scale":{"domain":[-731,726],"nice":false,"zero":false},"axis":{"values":[-600,-400,-200,0,200,400,600],"labelExpr":"datum.value==-600?'−600':datum.value==0?'0':datum.value==400?'400':''"}},"y":{"field":"y","type":"quantitative","scale":{"domain":[-104,1608],"reverse":true,"nice":false,"zero":false},"axis":{"values":[0,500,1000,1500]}},"order":{"value":null},"detail":{"field":"r"},"color":{"field":"c","type":"nominal","legend":null,"scale":{"domain":["k","e","b","r","g","m","y","n"],"range":["#231F20","#C8C8C8","#27AAE1","#ED1C24","#00984A","#EC008C","#FFF200","#2E3192"]}}}},
{"title":"W325,N+","width":111,"height":127,"transform":[{"filter":{"field":"p","equal":15}}],"mark":"line","encoding":{"x":{"field":"x","type":"quantitative","scale":{"domain":[-731,726],"nice":false,"zero":false},"axis":{"values":[-600,-400,-200,0,200,400,600],"labelExpr":"datum.value==-600?'−600':datum.value==0?'0':datum.value==400?'400':''"}},"y":{"field":"y","type":"quantitative","scale":{"domain":[-104,1608],"reverse":true,"nice":false,"zero":false},"axis":{"values":[0,500,1000,1500]}},"order":{"value":null},"detail":{"field":"r"},"color":{"field":"c","type":"nominal","legend":null,"scale":{"domain":["k","e","b","r","g","m","y","n"],"range":["#231F20","#C8C8C8","#27AAE1","#ED1C24","#00984A","#EC008C","#FFF200","#2E3192"]}}}},
{"title":"W637,N+","width":111,"height":127,"transform":[{"filter":{"field":"p","equal":16}}],"mark":"line","encoding":{"x":{"field":"x","type":"quantitative","scale":{"domain":[-731,726],"nice":false,"zero":false},"axis":{"values":[-600,-400,-200,0,200,400,600],"labelExpr":"datum.value==-600?'−600':datum.value==0?'0':datum.value==400?'400':''"}},"y":{"field":"y","type":"quantitative","scale":{"domain":[-104,1608],"reverse":true,"nice":false,"zero":false},"axis":{"values":[0,500,1000,1500]}},"order":{"value":null},"detail":{"field":"r"},"color":{"field":"c","type":"nominal","legend":null,"scale":{"domain":["k","e","b","r","g","m","y","n"],"range":["#231F20","#C8C8C8","#27AAE1","#ED1C24","#00984A","#EC008C","#FFF200","#2E3192"]}}}},
{"title":"W685,N+","width":111,"height":127,"transform":[{"filter":{"field":"p","equal":17}}],"mark":"line","encoding":{"x":{"field":"x","type":"quantitative","scale":{"domain":[-731,726],"nice":false,"zero":false},"axis":{"values":[-600,-400,-200,0,200,400,600],"labelExpr":"datum.value==-600?'−600':datum.value==0?'0':datum.value==400?'400':''"}},"y":{"field":"y","type":"quantitative","scale":{"domain":[-104,1608],"reverse":true,"nice":false,"zero":false},"axis":{"values":[0,500,1000,1500]}},"order":{"value":null},"detail":{"field":"r"},"color":{"field":"c","type":"nominal","legend":null,"scale":{"domain":["k","e","b","r","g","m","y","n"],"range":["#231F20","#C8C8C8","#27AAE1","#ED1C24","#00984A","#EC008C","#FFF200","#2E3192"]}}}}
],"columns":5,"spacing":{"column":54,"row":80},"bounds":"flush","align":"all"}
